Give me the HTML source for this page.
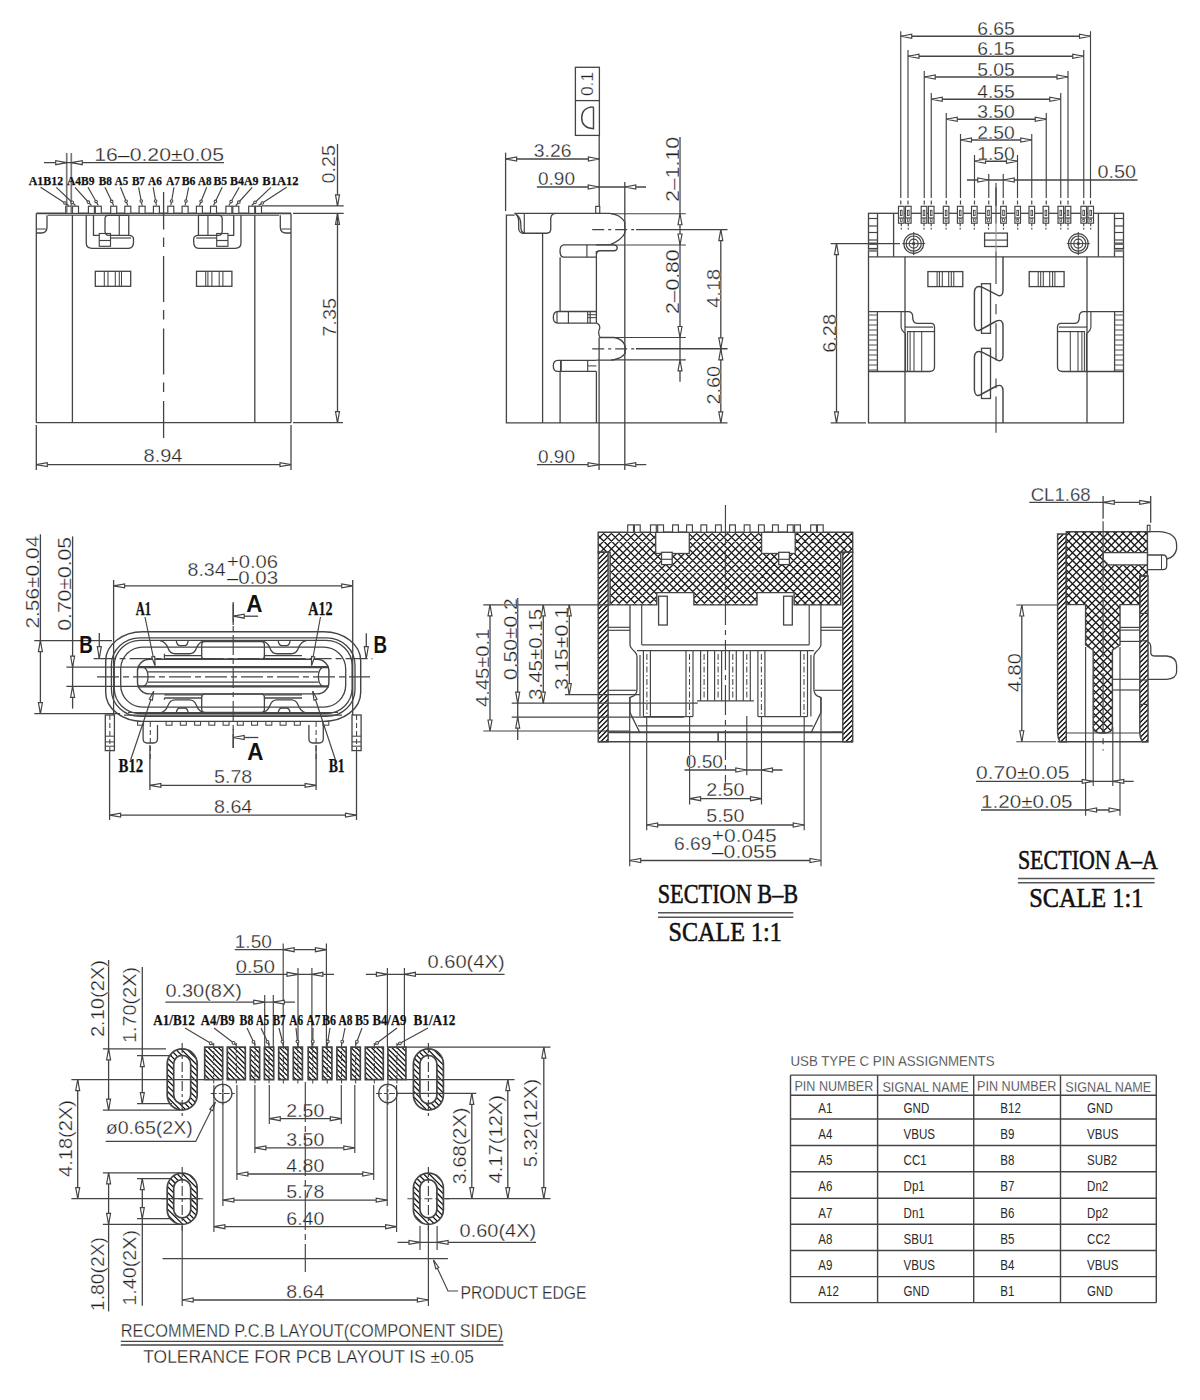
<!DOCTYPE html>
<html><head><meta charset="utf-8"><style>
html,body{margin:0;padding:0;background:#fff;}
svg{display:block;}
</style></head><body>
<svg width="1200" height="1400" viewBox="0 0 1200 1400">
<rect width="1200" height="1400" fill="#fff"/>
<line x1="36.3" y1="213.4" x2="291" y2="213.4" stroke="#444" stroke-width="1.69"/>
<line x1="36.3" y1="213.4" x2="36.3" y2="422.7" stroke="#444" stroke-width="1.3"/>
<line x1="291" y1="213.4" x2="291" y2="422.7" stroke="#444" stroke-width="1.3"/>
<line x1="36.3" y1="422.7" x2="291" y2="422.7" stroke="#444" stroke-width="1.3"/>
<line x1="48" y1="215.2" x2="279" y2="215.2" stroke="#444" stroke-width="1.04"/>
<line x1="72.4" y1="215" x2="72.4" y2="422.7" stroke="#444" stroke-width="1.3"/>
<line x1="254.8" y1="215" x2="254.8" y2="422.7" stroke="#444" stroke-width="1.3"/>
<path d="M47,215.2 L47,227 Q47,233 41.3,233 L36.3,233" fill="none" stroke="#444" stroke-width="1.3" />
<line x1="36.8" y1="229" x2="45.8" y2="229" stroke="#444" stroke-width="1.04"/>
<path d="M280.3,215.2 L280.3,227 Q280.3,233 286,233 L291,233" fill="none" stroke="#444" stroke-width="1.3" />
<line x1="290.5" y1="229" x2="281.5" y2="229" stroke="#444" stroke-width="1.04"/>
<path d="M86.25,215 L86.25,243 Q86.25,248.3 92,248.3 L128.5,248.3 Q133.5,248.3 133.5,242 L133.5,239 Q133.5,235.5 128.7,235.3" fill="none" stroke="#444" stroke-width="1.3" />
<polyline points="93.5,215 93.5,235.3 99.25,235.3" fill="none" stroke="#444" stroke-width="1.3"/>
<rect x="99.25" y="233.5" width="11.25" height="12.8" fill="none" stroke="#444" stroke-width="1.17"/>
<line x1="99.25" y1="240.5" x2="110.5" y2="240.5" stroke="#444" stroke-width="1.17"/>
<path d="M128.75,215.3 L108,215.3 Q105,215.3 105,219 L105,231 Q105,235.3 109,235.3 L128.75,235.3 Z" fill="none" stroke="#444" stroke-width="1.3" />
<line x1="119.25" y1="215.3" x2="119.25" y2="235.3" stroke="#444" stroke-width="1.17"/>
<line x1="111" y1="238" x2="131" y2="238" stroke="#444" stroke-width="1.17"/>
<rect x="95.3" y="271.3" width="35.4" height="15" fill="none" stroke="#444" stroke-width="1.3"/>
<line x1="104.3" y1="271.3" x2="104.3" y2="286.3" stroke="#444" stroke-width="1.04"/>
<line x1="108" y1="271.3" x2="108" y2="286.3" stroke="#444" stroke-width="1.04"/>
<line x1="115.3" y1="271.3" x2="115.3" y2="286.3" stroke="#444" stroke-width="1.04"/>
<line x1="119.3" y1="271.3" x2="119.3" y2="286.3" stroke="#444" stroke-width="1.04"/>
<line x1="121.5" y1="271.3" x2="121.5" y2="286.3" stroke="#444" stroke-width="1.04"/>
<path d="M240.95,215 L240.95,243 Q240.95,248.3 235.2,248.3 L198.7,248.3 Q193.7,248.3 193.7,242 L193.7,239 Q193.7,235.5 198.5,235.3" fill="none" stroke="#444" stroke-width="1.3" />
<polyline points="233.7,215 233.7,235.3 227.95,235.3" fill="none" stroke="#444" stroke-width="1.3"/>
<rect x="216.7" y="233.5" width="11.25" height="12.8" fill="none" stroke="#444" stroke-width="1.17"/>
<line x1="227.95" y1="240.5" x2="216.7" y2="240.5" stroke="#444" stroke-width="1.17"/>
<path d="M198.45,215.3 L219.2,215.3 Q222.2,215.3 222.2,219 L222.2,231 Q222.2,235.3 218.2,235.3 L198.45,235.3 Z" fill="none" stroke="#444" stroke-width="1.3" />
<line x1="207.95" y1="215.3" x2="207.95" y2="235.3" stroke="#444" stroke-width="1.17"/>
<line x1="216.2" y1="238" x2="196.2" y2="238" stroke="#444" stroke-width="1.17"/>
<rect x="196.5" y="271.3" width="35.4" height="15" fill="none" stroke="#444" stroke-width="1.3"/>
<line x1="222.9" y1="271.3" x2="222.9" y2="286.3" stroke="#444" stroke-width="1.04"/>
<line x1="219.2" y1="271.3" x2="219.2" y2="286.3" stroke="#444" stroke-width="1.04"/>
<line x1="211.9" y1="271.3" x2="211.9" y2="286.3" stroke="#444" stroke-width="1.04"/>
<line x1="207.9" y1="271.3" x2="207.9" y2="286.3" stroke="#444" stroke-width="1.04"/>
<line x1="205.7" y1="271.3" x2="205.7" y2="286.3" stroke="#444" stroke-width="1.04"/>
<line x1="163.6" y1="192" x2="163.6" y2="438" stroke="#444" stroke-width="1.3" stroke-dasharray="46,8,9.5,9" stroke-dashoffset="8.5"/>
<rect x="65.7" y="206.2" width="6" height="7.2" fill="#fff" stroke="#444" stroke-width="1.17"/>
<rect x="72.5" y="206.2" width="6" height="7.2" fill="#fff" stroke="#444" stroke-width="1.17"/>
<rect x="88.4" y="206.2" width="6" height="7.2" fill="#fff" stroke="#444" stroke-width="1.17"/>
<rect x="95.3" y="206.2" width="6" height="7.2" fill="#fff" stroke="#444" stroke-width="1.17"/>
<rect x="110.7" y="206.2" width="6" height="7.2" fill="#fff" stroke="#444" stroke-width="1.17"/>
<rect x="124.8" y="206.2" width="6" height="7.2" fill="#fff" stroke="#444" stroke-width="1.17"/>
<rect x="139.1" y="206.2" width="6" height="7.2" fill="#fff" stroke="#444" stroke-width="1.17"/>
<rect x="153.4" y="206.2" width="6" height="7.2" fill="#fff" stroke="#444" stroke-width="1.17"/>
<rect x="255.5" y="206.2" width="6" height="7.2" fill="#fff" stroke="#444" stroke-width="1.17"/>
<rect x="248.7" y="206.2" width="6" height="7.2" fill="#fff" stroke="#444" stroke-width="1.17"/>
<rect x="232.8" y="206.2" width="6" height="7.2" fill="#fff" stroke="#444" stroke-width="1.17"/>
<rect x="225.9" y="206.2" width="6" height="7.2" fill="#fff" stroke="#444" stroke-width="1.17"/>
<rect x="210.5" y="206.2" width="6" height="7.2" fill="#fff" stroke="#444" stroke-width="1.17"/>
<rect x="196.4" y="206.2" width="6" height="7.2" fill="#fff" stroke="#444" stroke-width="1.17"/>
<rect x="182.1" y="206.2" width="6" height="7.2" fill="#fff" stroke="#444" stroke-width="1.17"/>
<rect x="167.8" y="206.2" width="6" height="7.2" fill="#fff" stroke="#444" stroke-width="1.17"/>
<line x1="66.7" y1="153" x2="66.7" y2="213" stroke="#777" stroke-width="1.69"/>
<line x1="71.3" y1="153" x2="71.3" y2="213" stroke="#777" stroke-width="1.69"/>
<line x1="44" y1="162.7" x2="224" y2="162.7" stroke="#444" stroke-width="1.3"/>
<polygon points="66.7,162.7 55.7,164.7 55.7,160.7" fill="#fff" stroke="#444" stroke-width="1.17"/>
<polygon points="71.3,162.7 82.3,160.7 82.3,164.7" fill="#fff" stroke="#444" stroke-width="1.17"/>
<text x="94.2" y="161.2" font-family="Liberation Sans" font-size="17.8" font-weight="normal" text-anchor="start" fill="#222" textLength="129.8" lengthAdjust="spacingAndGlyphs"  stroke="#fff" stroke-width="0.3">16–0.20±0.05</text>
<text x="28.75" y="185" font-family="Liberation Serif" font-size="13.4" font-weight="bold" text-anchor="start" fill="#111" textLength="34.35" lengthAdjust="spacingAndGlyphs" stroke="#111" stroke-width="0.25">A1B12</text>
<text x="66.9" y="185" font-family="Liberation Serif" font-size="13.4" font-weight="bold" text-anchor="start" fill="#111" textLength="27.5" lengthAdjust="spacingAndGlyphs" stroke="#111" stroke-width="0.25">A4B9</text>
<text x="98.75" y="185" font-family="Liberation Serif" font-size="13.4" font-weight="bold" text-anchor="start" fill="#111" textLength="13.15" lengthAdjust="spacingAndGlyphs" stroke="#111" stroke-width="0.25">B8</text>
<text x="114.75" y="185" font-family="Liberation Serif" font-size="13.4" font-weight="bold" text-anchor="start" fill="#111" textLength="13.35" lengthAdjust="spacingAndGlyphs" stroke="#111" stroke-width="0.25">A5</text>
<text x="131.9" y="185" font-family="Liberation Serif" font-size="13.4" font-weight="bold" text-anchor="start" fill="#111" textLength="13.1" lengthAdjust="spacingAndGlyphs" stroke="#111" stroke-width="0.25">B7</text>
<text x="148.1" y="185" font-family="Liberation Serif" font-size="13.4" font-weight="bold" text-anchor="start" fill="#111" textLength="13.8" lengthAdjust="spacingAndGlyphs" stroke="#111" stroke-width="0.25">A6</text>
<text x="166" y="185" font-family="Liberation Serif" font-size="13.4" font-weight="bold" text-anchor="start" fill="#111" textLength="13.8" lengthAdjust="spacingAndGlyphs" stroke="#111" stroke-width="0.25">A7</text>
<text x="181.7" y="185" font-family="Liberation Serif" font-size="13.4" font-weight="bold" text-anchor="start" fill="#111" textLength="13.8" lengthAdjust="spacingAndGlyphs" stroke="#111" stroke-width="0.25">B6</text>
<text x="198" y="185" font-family="Liberation Serif" font-size="13.4" font-weight="bold" text-anchor="start" fill="#111" textLength="13.5" lengthAdjust="spacingAndGlyphs" stroke="#111" stroke-width="0.25">A8</text>
<text x="213.5" y="185" font-family="Liberation Serif" font-size="13.4" font-weight="bold" text-anchor="start" fill="#111" textLength="13.7" lengthAdjust="spacingAndGlyphs" stroke="#111" stroke-width="0.25">B5</text>
<text x="230" y="185" font-family="Liberation Serif" font-size="13.4" font-weight="bold" text-anchor="start" fill="#111" textLength="28.5" lengthAdjust="spacingAndGlyphs" stroke="#111" stroke-width="0.25">B4A9</text>
<text x="262.3" y="185" font-family="Liberation Serif" font-size="13.4" font-weight="bold" text-anchor="start" fill="#111" textLength="36.2" lengthAdjust="spacingAndGlyphs" stroke="#111" stroke-width="0.25">B1A12</text>
<line x1="40.6" y1="187.3" x2="68.7" y2="205.5" stroke="#444" stroke-width="1.17"/>
<circle cx="64.92" cy="203.05" r="1.3" fill="#fff" stroke="#444" stroke-width="1.04"/>
<line x1="56.3" y1="187.3" x2="75.5" y2="205.5" stroke="#444" stroke-width="1.17"/>
<circle cx="72.23" cy="202.4" r="1.3" fill="#fff" stroke="#444" stroke-width="1.04"/>
<line x1="75" y1="187.3" x2="91.4" y2="205.5" stroke="#444" stroke-width="1.17"/>
<circle cx="88.39" cy="202.16" r="1.3" fill="#fff" stroke="#444" stroke-width="1.04"/>
<line x1="88" y1="187.3" x2="98.3" y2="205.5" stroke="#444" stroke-width="1.17"/>
<circle cx="96.08" cy="201.58" r="1.3" fill="#fff" stroke="#444" stroke-width="1.04"/>
<line x1="105" y1="187.3" x2="113.7" y2="205.5" stroke="#444" stroke-width="1.17"/>
<circle cx="111.76" cy="201.44" r="1.3" fill="#fff" stroke="#444" stroke-width="1.04"/>
<line x1="120.5" y1="187.3" x2="127.8" y2="205.5" stroke="#444" stroke-width="1.17"/>
<circle cx="126.12" cy="201.32" r="1.3" fill="#fff" stroke="#444" stroke-width="1.04"/>
<line x1="138.6" y1="187.3" x2="142.1" y2="205.5" stroke="#444" stroke-width="1.17"/>
<circle cx="141.25" cy="201.08" r="1.3" fill="#fff" stroke="#444" stroke-width="1.04"/>
<line x1="153.2" y1="187.3" x2="156.4" y2="205.5" stroke="#444" stroke-width="1.17"/>
<circle cx="155.62" cy="201.07" r="1.3" fill="#fff" stroke="#444" stroke-width="1.04"/>
<line x1="286.6" y1="187.3" x2="258.5" y2="205.5" stroke="#444" stroke-width="1.17"/>
<circle cx="262.28" cy="203.05" r="1.3" fill="#fff" stroke="#444" stroke-width="1.04"/>
<line x1="270.9" y1="187.3" x2="251.7" y2="205.5" stroke="#444" stroke-width="1.17"/>
<circle cx="254.97" cy="202.4" r="1.3" fill="#fff" stroke="#444" stroke-width="1.04"/>
<line x1="252.2" y1="187.3" x2="235.8" y2="205.5" stroke="#444" stroke-width="1.17"/>
<circle cx="238.81" cy="202.16" r="1.3" fill="#fff" stroke="#444" stroke-width="1.04"/>
<line x1="239.2" y1="187.3" x2="228.9" y2="205.5" stroke="#444" stroke-width="1.17"/>
<circle cx="231.12" cy="201.58" r="1.3" fill="#fff" stroke="#444" stroke-width="1.04"/>
<line x1="222.2" y1="187.3" x2="213.5" y2="205.5" stroke="#444" stroke-width="1.17"/>
<circle cx="215.44" cy="201.44" r="1.3" fill="#fff" stroke="#444" stroke-width="1.04"/>
<line x1="206.7" y1="187.3" x2="199.4" y2="205.5" stroke="#444" stroke-width="1.17"/>
<circle cx="201.08" cy="201.32" r="1.3" fill="#fff" stroke="#444" stroke-width="1.04"/>
<line x1="188.6" y1="187.3" x2="185.1" y2="205.5" stroke="#444" stroke-width="1.17"/>
<circle cx="185.95" cy="201.08" r="1.3" fill="#fff" stroke="#444" stroke-width="1.04"/>
<line x1="174" y1="187.3" x2="170.8" y2="205.5" stroke="#444" stroke-width="1.17"/>
<circle cx="171.58" cy="201.07" r="1.3" fill="#fff" stroke="#444" stroke-width="1.04"/>
<line x1="262" y1="205.8" x2="343.7" y2="205.8" stroke="#444" stroke-width="1.17"/>
<line x1="293" y1="213.4" x2="343.7" y2="213.4" stroke="#444" stroke-width="1.17"/>
<line x1="337.5" y1="144" x2="337.5" y2="205.8" stroke="#444" stroke-width="1.3"/>
<polygon points="337.5,205.8 335.5,194.8 339.5,194.8" fill="#fff" stroke="#444" stroke-width="1.17"/>
<polygon points="337.5,213.4 339.5,224.4 335.5,224.4" fill="#fff" stroke="#444" stroke-width="1.17"/>
<line x1="337.5" y1="213.4" x2="337.5" y2="422.7" stroke="#444" stroke-width="1.3"/>
<polygon points="337.5,422.7 335.5,411.7 339.5,411.7" fill="#fff" stroke="#444" stroke-width="1.17"/>
<text x="335.41" y="183.5" font-family="Liberation Sans" font-size="17.8" font-weight="normal" text-anchor="start" fill="#222" textLength="38.5" lengthAdjust="spacingAndGlyphs" transform="rotate(-90 335.41 183.5)"  stroke="#fff" stroke-width="0.3">0.25</text>
<line x1="293" y1="422.7" x2="343" y2="422.7" stroke="#444" stroke-width="1.17"/>
<text x="336.41" y="336.7" font-family="Liberation Sans" font-size="17.8" font-weight="normal" text-anchor="start" fill="#222" textLength="38.7" lengthAdjust="spacingAndGlyphs" transform="rotate(-90 336.41 336.7)"  stroke="#fff" stroke-width="0.3">7.35</text>
<line x1="36.3" y1="425" x2="36.3" y2="470" stroke="#444" stroke-width="1.3"/>
<line x1="291" y1="425" x2="291" y2="470" stroke="#444" stroke-width="1.3"/>
<line x1="36.3" y1="464.6" x2="291" y2="464.6" stroke="#444" stroke-width="1.3"/>
<polygon points="36.3,464.6 47.3,462.6 47.3,466.6" fill="#fff" stroke="#444" stroke-width="1.17"/>
<polygon points="291,464.6 280,466.6 280,462.6" fill="#fff" stroke="#444" stroke-width="1.17"/>
<text x="143.5" y="462" font-family="Liberation Sans" font-size="17.8" font-weight="normal" text-anchor="start" fill="#222" textLength="39" lengthAdjust="spacingAndGlyphs"  stroke="#fff" stroke-width="0.3">8.94</text>
<polyline points="514.6,215.2 506.4,215.2 506.4,422.9 727.5,422.9" fill="none" stroke="#444" stroke-width="1.3"/>
<path d="M514.6,213.4 Q518.5,215 518.7,222 L518.7,229 Q519.5,233.25 523,233.25 L546.5,233.25 Q550.75,233.25 550.75,229 L550.75,218 Q551.5,213.4 556,213.4 L609.7,213.4 Q620.2,214.5 624.8,222 L625,232.7 Q622,239.7 609.7,244.9 L563.6,244.9 Q560,245.5 560,251 Q560,257.2 564,257.2 L596.25,257.2" fill="none" stroke="#444" stroke-width="1.3" />
<line x1="514.6" y1="213.4" x2="556" y2="213.4" stroke="#444" stroke-width="1.3"/>
<line x1="524.3" y1="213.4" x2="524.3" y2="233.25" stroke="#444" stroke-width="1.17"/>
<path d="M516.5,214.5 Q520.5,217 520.8,224 L521,229 Q521.5,232.5 524,233.2" fill="none" stroke="#444" stroke-width="1.3" />
<line x1="586.9" y1="244.9" x2="586.9" y2="257.2" stroke="#444" stroke-width="1.17"/>
<path d="M596.25,244.9 L614,244.9 Q617.25,245.5 617.25,248 Q617,250.75 614,250.75 L599.5,250.75 Q597,251 596.25,254" fill="none" stroke="#444" stroke-width="1.3" />
<line x1="542.6" y1="233.25" x2="542.6" y2="422.9" stroke="#444" stroke-width="1.3"/>
<line x1="560.1" y1="257.2" x2="560.1" y2="311.5" stroke="#444" stroke-width="1.3"/>
<line x1="560.1" y1="371.4" x2="560.1" y2="422.9" stroke="#444" stroke-width="1.3"/>
<line x1="596.4" y1="251" x2="596.4" y2="323.2" stroke="#444" stroke-width="1.3"/>
<line x1="596.4" y1="371.4" x2="596.4" y2="422.9" stroke="#444" stroke-width="1.3"/>
<path d="M596.4,311.5 L558,311.5 Q553.3,311.5 553.3,317.35 Q553.3,323.2 558,323.2 L596.4,323.2" fill="none" stroke="#444" stroke-width="1.3" />
<path d="M596.4,360.4 L558,360.4 Q553.3,360.4 553.3,365.9 Q553.3,371.4 558,371.4 L596.4,371.4" fill="none" stroke="#444" stroke-width="1.3" />
<line x1="557" y1="311.5" x2="557" y2="323.2" stroke="#444" stroke-width="1.17"/>
<line x1="568.4" y1="311.5" x2="568.4" y2="323.2" stroke="#444" stroke-width="1.17"/>
<line x1="587.7" y1="311.5" x2="587.7" y2="323.2" stroke="#444" stroke-width="1.17"/>
<line x1="590.2" y1="311.5" x2="590.2" y2="323.2" stroke="#444" stroke-width="1.17"/>
<line x1="587.7" y1="314.7" x2="596.4" y2="314.7" stroke="#444" stroke-width="1.04"/>
<line x1="587.7" y1="317.6" x2="596.4" y2="317.6" stroke="#444" stroke-width="1.04"/>
<line x1="560.9" y1="360.4" x2="560.9" y2="371.4" stroke="#444" stroke-width="1.82"/>
<line x1="587.7" y1="360.4" x2="587.7" y2="371.4" stroke="#444" stroke-width="1.17"/>
<line x1="587.7" y1="365.9" x2="596.4" y2="365.9" stroke="#444" stroke-width="1.04"/>
<path d="M596.4,323.2 Q599.8,324 599.8,328 Q597.5,333 600,337.5 L614.2,337.5 Q623,339 625.2,346 L625.2,353.2 Q622,358.5 612.4,360.1 L596.4,360.1" fill="none" stroke="#444" stroke-width="1.3" />
<rect x="595.7" y="206.4" width="4.05" height="7" fill="none" stroke="#444" stroke-width="1.17"/>
<line x1="599.2" y1="135.4" x2="599.2" y2="206.4" stroke="#444" stroke-width="1.3"/>
<line x1="599.1" y1="337.5" x2="599.1" y2="470" stroke="#444" stroke-width="1.3"/>
<line x1="624.8" y1="181.9" x2="624.8" y2="470" stroke="#444" stroke-width="1.3"/>
<line x1="505.6" y1="152.7" x2="505.6" y2="211" stroke="#444" stroke-width="1.3"/>
<rect x="575.4" y="67.3" width="24" height="68.1" fill="none" stroke="#444" stroke-width="1.3"/>
<line x1="575.4" y1="100.6" x2="599.4" y2="100.6" stroke="#444" stroke-width="1.3"/>
<text x="593.34" y="96" font-family="Liberation Sans" font-size="16.5" font-weight="normal" text-anchor="start" fill="#222" textLength="24" lengthAdjust="spacingAndGlyphs" transform="rotate(-90 593.34 96)"  stroke="#fff" stroke-width="0.3">0.1</text>
<path d="M593.5,106.9 L593.5,128.75 Q581.7,128 581.7,117.8 Q581.7,107.5 593.5,106.9" fill="none" stroke="#444" stroke-width="1.43" />
<line x1="505.6" y1="159" x2="599.4" y2="159" stroke="#444" stroke-width="1.3"/>
<polygon points="505.6,159 516.6,157 516.6,161" fill="#fff" stroke="#444" stroke-width="1.17"/>
<polygon points="599.4,159 588.4,161 588.4,157" fill="#fff" stroke="#444" stroke-width="1.17"/>
<text x="533.8" y="156.9" font-family="Liberation Sans" font-size="17.8" font-weight="normal" text-anchor="start" fill="#222" textLength="37.7" lengthAdjust="spacingAndGlyphs"  stroke="#fff" stroke-width="0.3">3.26</text>
<line x1="536.9" y1="187" x2="646" y2="187" stroke="#444" stroke-width="1.3"/>
<polygon points="599.2,187 588.2,189 588.2,185" fill="#fff" stroke="#444" stroke-width="1.17"/>
<polygon points="624.8,187 635.8,185 635.8,189" fill="#fff" stroke="#444" stroke-width="1.17"/>
<text x="538" y="185" font-family="Liberation Sans" font-size="17.8" font-weight="normal" text-anchor="start" fill="#222" textLength="37" lengthAdjust="spacingAndGlyphs"  stroke="#fff" stroke-width="0.3">0.90</text>
<line x1="536.9" y1="464.6" x2="646.25" y2="464.6" stroke="#444" stroke-width="1.3"/>
<polygon points="599.1,464.6 588.1,466.6 588.1,462.6" fill="#fff" stroke="#444" stroke-width="1.17"/>
<polygon points="624.8,464.6 635.8,462.6 635.8,466.6" fill="#fff" stroke="#444" stroke-width="1.17"/>
<text x="538" y="462.5" font-family="Liberation Sans" font-size="17.8" font-weight="normal" text-anchor="start" fill="#222" textLength="37" lengthAdjust="spacingAndGlyphs"  stroke="#fff" stroke-width="0.3">0.90</text>
<line x1="611" y1="213.75" x2="685.8" y2="213.75" stroke="#444" stroke-width="1.17"/>
<line x1="611" y1="245" x2="685.8" y2="245" stroke="#444" stroke-width="1.17"/>
<line x1="611" y1="337.5" x2="685.8" y2="337.5" stroke="#444" stroke-width="1.17"/>
<line x1="611" y1="359.8" x2="685.8" y2="359.8" stroke="#444" stroke-width="1.17"/>
<line x1="592.2" y1="229.6" x2="636" y2="229.6" stroke="#444" stroke-width="1.17" stroke-dasharray="12,4,3,4"/>
<line x1="636" y1="229.6" x2="727.5" y2="229.6" stroke="#444" stroke-width="1.17"/>
<line x1="592.2" y1="348.8" x2="636" y2="348.8" stroke="#444" stroke-width="1.17" stroke-dasharray="12,4,3,4"/>
<line x1="636" y1="348.8" x2="727.5" y2="348.8" stroke="#444" stroke-width="1.56"/>
<line x1="680" y1="137" x2="680" y2="381.7" stroke="#444" stroke-width="1.3"/>
<polygon points="680,213.75 682,224.75 678,224.75" fill="#fff" stroke="#444" stroke-width="1.17"/>
<polygon points="680,245 678,234 682,234" fill="#fff" stroke="#444" stroke-width="1.17"/>
<polygon points="680,337.5 678,326.5 682,326.5" fill="#fff" stroke="#444" stroke-width="1.17"/>
<polygon points="680,359.8 682,370.8 678,370.8" fill="#fff" stroke="#444" stroke-width="1.17"/>
<text x="678.71" y="201.7" font-family="Liberation Sans" font-size="17.8" font-weight="normal" text-anchor="start" fill="#222" textLength="64.7" lengthAdjust="spacingAndGlyphs" transform="rotate(-90 678.71 201.7)"  stroke="#fff" stroke-width="0.3">2–1.10</text>
<text x="678.71" y="314" font-family="Liberation Sans" font-size="17.8" font-weight="normal" text-anchor="start" fill="#222" textLength="64.6" lengthAdjust="spacingAndGlyphs" transform="rotate(-90 678.71 314)"  stroke="#fff" stroke-width="0.3">2–0.80</text>
<line x1="720.8" y1="229.6" x2="720.8" y2="422.9" stroke="#444" stroke-width="1.3"/>
<polygon points="720.8,229.6 722.8,240.6 718.8,240.6" fill="#fff" stroke="#444" stroke-width="1.17"/>
<polygon points="720.8,348.8 718.8,337.8 722.8,337.8" fill="#fff" stroke="#444" stroke-width="1.17"/>
<polygon points="720.8,348.8 722.8,359.8 718.8,359.8" fill="#fff" stroke="#444" stroke-width="1.17"/>
<polygon points="720.8,422.9 718.8,411.9 722.8,411.9" fill="#fff" stroke="#444" stroke-width="1.17"/>
<text x="720.41" y="307.7" font-family="Liberation Sans" font-size="17.8" font-weight="normal" text-anchor="start" fill="#222" textLength="38.7" lengthAdjust="spacingAndGlyphs" transform="rotate(-90 720.41 307.7)"  stroke="#fff" stroke-width="0.3">4.18</text>
<text x="720.41" y="404.6" font-family="Liberation Sans" font-size="17.8" font-weight="normal" text-anchor="start" fill="#222" textLength="38.6" lengthAdjust="spacingAndGlyphs" transform="rotate(-90 720.41 404.6)"  stroke="#fff" stroke-width="0.3">2.60</text>
<rect x="868.5" y="213.3" width="255" height="209.6" fill="none" stroke="#444" stroke-width="1.3"/>
<line x1="868.5" y1="256.8" x2="1123.5" y2="256.8" stroke="#444" stroke-width="1.3"/>
<line x1="893.6" y1="213.3" x2="893.6" y2="256.8" stroke="#444" stroke-width="1.3"/>
<line x1="905" y1="256.8" x2="905" y2="422.9" stroke="#444" stroke-width="1.3"/>
<line x1="877.5" y1="213.3" x2="877.5" y2="256.8" stroke="#444" stroke-width="1.3"/>
<line x1="868.5" y1="218.5" x2="877.5" y2="218.5" stroke="#444" stroke-width="1.17"/>
<line x1="868.5" y1="226" x2="877.5" y2="226" stroke="#444" stroke-width="1.17"/>
<line x1="868.5" y1="232.5" x2="877.5" y2="232.5" stroke="#444" stroke-width="1.17"/>
<line x1="868.5" y1="240" x2="877.5" y2="240" stroke="#444" stroke-width="1.17"/>
<line x1="868.5" y1="244" x2="877.5" y2="244" stroke="#444" stroke-width="1.17"/>
<line x1="868.5" y1="248.5" x2="877.5" y2="248.5" stroke="#444" stroke-width="1.17"/>
<line x1="868.5" y1="251" x2="877.5" y2="251" stroke="#444" stroke-width="1.17"/>
<line x1="868.5" y1="243.7" x2="877.5" y2="243.7" stroke="#666" stroke-width="2.6"/>
<line x1="868.5" y1="250.5" x2="877.5" y2="250.5" stroke="#888" stroke-width="2.6"/>
<circle cx="913.7" cy="243.6" r="9.9" fill="none" stroke="#444" stroke-width="1.3"/>
<circle cx="913.7" cy="243.6" r="7.6" fill="none" stroke="#444" stroke-width="1.17"/>
<circle cx="913.7" cy="243.6" r="4.5" fill="none" stroke="#444" stroke-width="1.17"/>
<circle cx="913.7" cy="243.6" r="1.2" fill="#333" stroke="#444" stroke-width="1.04"/>
<line x1="902.2" y1="243.6" x2="925.2" y2="243.6" stroke="#444" stroke-width="1.04"/>
<line x1="913.7" y1="232.1" x2="913.7" y2="255.1" stroke="#444" stroke-width="1.04"/>
<rect x="927.9" y="271.6" width="34.9" height="15" fill="none" stroke="#444" stroke-width="1.3"/>
<line x1="937.1" y1="271.6" x2="937.1" y2="286.6" stroke="#444" stroke-width="1.04"/>
<line x1="939.4" y1="271.6" x2="939.4" y2="286.6" stroke="#444" stroke-width="1.04"/>
<line x1="942.3" y1="271.6" x2="942.3" y2="286.6" stroke="#444" stroke-width="1.04"/>
<line x1="948.7" y1="271.6" x2="948.7" y2="286.6" stroke="#444" stroke-width="1.04"/>
<line x1="951.3" y1="271.6" x2="951.3" y2="286.6" stroke="#444" stroke-width="1.04"/>
<line x1="953.8" y1="271.6" x2="953.8" y2="286.6" stroke="#444" stroke-width="1.04"/>
<path d="M868.5,311.7 L908.8,311.7 Q912.7,312 912.7,317 Q912.7,323.3 917,323.3 L931.3,323.3 Q934.5,323.5 934.5,327.1 L934.5,367 Q934.5,371.5 929.4,371.5 L868.5,371.5" fill="none" stroke="#444" stroke-width="1.3" />
<path d="M901.1,311.7 L901.1,327 Q901.5,331 905.5,333.5 L905.5,371.5" fill="none" stroke="#444" stroke-width="1.17" />
<line x1="905" y1="327.1" x2="933" y2="327.1" stroke="#444" stroke-width="1.17"/>
<line x1="907" y1="331.6" x2="934.5" y2="331.6" stroke="#444" stroke-width="1.17"/>
<line x1="907.6" y1="332" x2="907.6" y2="371.5" stroke="#444" stroke-width="1.04"/>
<line x1="910.1" y1="332" x2="910.1" y2="371.5" stroke="#444" stroke-width="1.04"/>
<line x1="914" y1="332" x2="914" y2="371.5" stroke="#444" stroke-width="1.04"/>
<line x1="921.7" y1="332" x2="921.7" y2="371.5" stroke="#444" stroke-width="1.04"/>
<line x1="877.4" y1="311.7" x2="877.4" y2="371.5" stroke="#444" stroke-width="1.3"/>
<line x1="868.5" y1="315" x2="877.4" y2="315" stroke="#555" stroke-width="1.04"/>
<line x1="868.5" y1="320" x2="877.4" y2="320" stroke="#555" stroke-width="1.04"/>
<line x1="868.5" y1="325" x2="877.4" y2="325" stroke="#555" stroke-width="1.04"/>
<line x1="868.5" y1="330" x2="877.4" y2="330" stroke="#555" stroke-width="1.04"/>
<line x1="868.5" y1="335" x2="877.4" y2="335" stroke="#555" stroke-width="1.04"/>
<line x1="868.5" y1="340" x2="877.4" y2="340" stroke="#555" stroke-width="1.04"/>
<line x1="868.5" y1="345" x2="877.4" y2="345" stroke="#555" stroke-width="1.04"/>
<line x1="868.5" y1="350" x2="877.4" y2="350" stroke="#555" stroke-width="1.04"/>
<line x1="868.5" y1="355" x2="877.4" y2="355" stroke="#555" stroke-width="1.04"/>
<line x1="868.5" y1="360" x2="877.4" y2="360" stroke="#555" stroke-width="1.04"/>
<line x1="868.5" y1="365" x2="877.4" y2="365" stroke="#555" stroke-width="1.04"/>
<line x1="868.5" y1="370" x2="877.4" y2="370" stroke="#555" stroke-width="1.04"/>
<line x1="1098.4" y1="213.3" x2="1098.4" y2="256.8" stroke="#444" stroke-width="1.3"/>
<line x1="1087" y1="256.8" x2="1087" y2="422.9" stroke="#444" stroke-width="1.3"/>
<line x1="1114.5" y1="213.3" x2="1114.5" y2="256.8" stroke="#444" stroke-width="1.3"/>
<line x1="1114.5" y1="218.5" x2="1123.5" y2="218.5" stroke="#444" stroke-width="1.17"/>
<line x1="1114.5" y1="226" x2="1123.5" y2="226" stroke="#444" stroke-width="1.17"/>
<line x1="1114.5" y1="232.5" x2="1123.5" y2="232.5" stroke="#444" stroke-width="1.17"/>
<line x1="1114.5" y1="240" x2="1123.5" y2="240" stroke="#444" stroke-width="1.17"/>
<line x1="1114.5" y1="244" x2="1123.5" y2="244" stroke="#444" stroke-width="1.17"/>
<line x1="1114.5" y1="248.5" x2="1123.5" y2="248.5" stroke="#444" stroke-width="1.17"/>
<line x1="1114.5" y1="251" x2="1123.5" y2="251" stroke="#444" stroke-width="1.17"/>
<line x1="1114.5" y1="243.7" x2="1123.5" y2="243.7" stroke="#666" stroke-width="2.6"/>
<line x1="1114.5" y1="250.5" x2="1123.5" y2="250.5" stroke="#888" stroke-width="2.6"/>
<circle cx="1078.3" cy="243.6" r="9.9" fill="none" stroke="#444" stroke-width="1.3"/>
<circle cx="1078.3" cy="243.6" r="7.6" fill="none" stroke="#444" stroke-width="1.17"/>
<circle cx="1078.3" cy="243.6" r="4.5" fill="none" stroke="#444" stroke-width="1.17"/>
<circle cx="1078.3" cy="243.6" r="1.2" fill="#333" stroke="#444" stroke-width="1.04"/>
<line x1="1066.8" y1="243.6" x2="1089.8" y2="243.6" stroke="#444" stroke-width="1.04"/>
<line x1="1078.3" y1="232.1" x2="1078.3" y2="255.1" stroke="#444" stroke-width="1.04"/>
<rect x="1029.2" y="271.6" width="34.9" height="15" fill="none" stroke="#444" stroke-width="1.3"/>
<line x1="1054.9" y1="271.6" x2="1054.9" y2="286.6" stroke="#444" stroke-width="1.04"/>
<line x1="1052.6" y1="271.6" x2="1052.6" y2="286.6" stroke="#444" stroke-width="1.04"/>
<line x1="1049.7" y1="271.6" x2="1049.7" y2="286.6" stroke="#444" stroke-width="1.04"/>
<line x1="1043.3" y1="271.6" x2="1043.3" y2="286.6" stroke="#444" stroke-width="1.04"/>
<line x1="1040.7" y1="271.6" x2="1040.7" y2="286.6" stroke="#444" stroke-width="1.04"/>
<line x1="1038.2" y1="271.6" x2="1038.2" y2="286.6" stroke="#444" stroke-width="1.04"/>
<path d="M1123.5,311.7 L1083.2,311.7 Q1079.3,312 1079.3,317 Q1079.3,323.3 1075,323.3 L1060.7,323.3 Q1057.5,323.5 1057.5,327.1 L1057.5,367 Q1057.5,371.5 1062.6,371.5 L1123.5,371.5" fill="none" stroke="#444" stroke-width="1.3" />
<path d="M1090.9,311.7 L1090.9,327 Q1090.5,331 1086.5,333.5 L1086.5,371.5" fill="none" stroke="#444" stroke-width="1.17" />
<line x1="1087" y1="327.1" x2="1059" y2="327.1" stroke="#444" stroke-width="1.17"/>
<line x1="1085" y1="331.6" x2="1057.5" y2="331.6" stroke="#444" stroke-width="1.17"/>
<line x1="1084.4" y1="332" x2="1084.4" y2="371.5" stroke="#444" stroke-width="1.04"/>
<line x1="1081.9" y1="332" x2="1081.9" y2="371.5" stroke="#444" stroke-width="1.04"/>
<line x1="1078" y1="332" x2="1078" y2="371.5" stroke="#444" stroke-width="1.04"/>
<line x1="1070.3" y1="332" x2="1070.3" y2="371.5" stroke="#444" stroke-width="1.04"/>
<line x1="1114.6" y1="311.7" x2="1114.6" y2="371.5" stroke="#444" stroke-width="1.3"/>
<line x1="1114.6" y1="315" x2="1123.5" y2="315" stroke="#555" stroke-width="1.04"/>
<line x1="1114.6" y1="320" x2="1123.5" y2="320" stroke="#555" stroke-width="1.04"/>
<line x1="1114.6" y1="325" x2="1123.5" y2="325" stroke="#555" stroke-width="1.04"/>
<line x1="1114.6" y1="330" x2="1123.5" y2="330" stroke="#555" stroke-width="1.04"/>
<line x1="1114.6" y1="335" x2="1123.5" y2="335" stroke="#555" stroke-width="1.04"/>
<line x1="1114.6" y1="340" x2="1123.5" y2="340" stroke="#555" stroke-width="1.04"/>
<line x1="1114.6" y1="345" x2="1123.5" y2="345" stroke="#555" stroke-width="1.04"/>
<line x1="1114.6" y1="350" x2="1123.5" y2="350" stroke="#555" stroke-width="1.04"/>
<line x1="1114.6" y1="355" x2="1123.5" y2="355" stroke="#555" stroke-width="1.04"/>
<line x1="1114.6" y1="360" x2="1123.5" y2="360" stroke="#555" stroke-width="1.04"/>
<line x1="1114.6" y1="365" x2="1123.5" y2="365" stroke="#555" stroke-width="1.04"/>
<line x1="1114.6" y1="370" x2="1123.5" y2="370" stroke="#555" stroke-width="1.04"/>
<rect x="898.5" y="206.3" width="5.6" height="16.9" fill="#fff" stroke="#444" stroke-width="1.17"/>
<line x1="898.5" y1="217.9" x2="904.1" y2="217.9" stroke="#444" stroke-width="1.04"/>
<rect x="900.5" y="210.3" width="1.6" height="5.3" fill="none" stroke="#444" stroke-width="0.91"/>
<rect x="900.4" y="218.7" width="1.8" height="2.7" fill="none" stroke="#444" stroke-width="0.78"/>
<line x1="901.3" y1="223.2" x2="901.3" y2="229.5" stroke="#444" stroke-width="1.17" stroke-dasharray="3,1.5"/>
<rect x="905.5" y="206.3" width="5.6" height="16.9" fill="#fff" stroke="#444" stroke-width="1.17"/>
<line x1="905.5" y1="217.9" x2="911.1" y2="217.9" stroke="#444" stroke-width="1.04"/>
<rect x="907.5" y="210.3" width="1.6" height="5.3" fill="none" stroke="#444" stroke-width="0.91"/>
<rect x="907.4" y="218.7" width="1.8" height="2.7" fill="none" stroke="#444" stroke-width="0.78"/>
<line x1="908.3" y1="223.2" x2="908.3" y2="229.5" stroke="#444" stroke-width="1.17" stroke-dasharray="3,1.5"/>
<rect x="921.2" y="206.3" width="5.6" height="16.9" fill="#fff" stroke="#444" stroke-width="1.17"/>
<line x1="921.2" y1="217.9" x2="926.8" y2="217.9" stroke="#444" stroke-width="1.04"/>
<rect x="923.2" y="210.3" width="1.6" height="5.3" fill="none" stroke="#444" stroke-width="0.91"/>
<rect x="923.1" y="218.7" width="1.8" height="2.7" fill="none" stroke="#444" stroke-width="0.78"/>
<line x1="924" y1="223.2" x2="924" y2="229.5" stroke="#444" stroke-width="1.17" stroke-dasharray="3,1.5"/>
<rect x="928.4" y="206.3" width="5.6" height="16.9" fill="#fff" stroke="#444" stroke-width="1.17"/>
<line x1="928.4" y1="217.9" x2="934" y2="217.9" stroke="#444" stroke-width="1.04"/>
<rect x="930.4" y="210.3" width="1.6" height="5.3" fill="none" stroke="#444" stroke-width="0.91"/>
<rect x="930.3" y="218.7" width="1.8" height="2.7" fill="none" stroke="#444" stroke-width="0.78"/>
<line x1="931.2" y1="223.2" x2="931.2" y2="229.5" stroke="#444" stroke-width="1.17" stroke-dasharray="3,1.5"/>
<rect x="943.3" y="206.3" width="5.6" height="16.9" fill="#fff" stroke="#444" stroke-width="1.17"/>
<line x1="943.3" y1="217.9" x2="948.9" y2="217.9" stroke="#444" stroke-width="1.04"/>
<rect x="945.3" y="210.3" width="1.6" height="5.3" fill="none" stroke="#444" stroke-width="0.91"/>
<rect x="945.2" y="218.7" width="1.8" height="2.7" fill="none" stroke="#444" stroke-width="0.78"/>
<line x1="946.1" y1="223.2" x2="946.1" y2="229.5" stroke="#444" stroke-width="1.17" stroke-dasharray="3,1.5"/>
<rect x="957.4" y="206.3" width="5.6" height="16.9" fill="#fff" stroke="#444" stroke-width="1.17"/>
<line x1="957.4" y1="217.9" x2="963" y2="217.9" stroke="#444" stroke-width="1.04"/>
<rect x="959.4" y="210.3" width="1.6" height="5.3" fill="none" stroke="#444" stroke-width="0.91"/>
<rect x="959.3" y="218.7" width="1.8" height="2.7" fill="none" stroke="#444" stroke-width="0.78"/>
<line x1="960.2" y1="223.2" x2="960.2" y2="229.5" stroke="#444" stroke-width="1.17" stroke-dasharray="3,1.5"/>
<rect x="971.5" y="206.3" width="5.6" height="16.9" fill="#fff" stroke="#444" stroke-width="1.17"/>
<line x1="971.5" y1="217.9" x2="977.1" y2="217.9" stroke="#444" stroke-width="1.04"/>
<rect x="973.5" y="210.3" width="1.6" height="5.3" fill="none" stroke="#444" stroke-width="0.91"/>
<rect x="973.4" y="218.7" width="1.8" height="2.7" fill="none" stroke="#444" stroke-width="0.78"/>
<line x1="974.3" y1="223.2" x2="974.3" y2="229.5" stroke="#444" stroke-width="1.17" stroke-dasharray="3,1.5"/>
<rect x="985.7" y="206.3" width="5.6" height="16.9" fill="#fff" stroke="#444" stroke-width="1.17"/>
<line x1="985.7" y1="217.9" x2="991.3" y2="217.9" stroke="#444" stroke-width="1.04"/>
<rect x="987.7" y="210.3" width="1.6" height="5.3" fill="none" stroke="#444" stroke-width="0.91"/>
<rect x="987.6" y="218.7" width="1.8" height="2.7" fill="none" stroke="#444" stroke-width="0.78"/>
<line x1="988.5" y1="223.2" x2="988.5" y2="229.5" stroke="#444" stroke-width="1.17" stroke-dasharray="3,1.5"/>
<rect x="1087.9" y="206.3" width="5.6" height="16.9" fill="#fff" stroke="#444" stroke-width="1.17"/>
<line x1="1087.9" y1="217.9" x2="1093.5" y2="217.9" stroke="#444" stroke-width="1.04"/>
<rect x="1089.9" y="210.3" width="1.6" height="5.3" fill="none" stroke="#444" stroke-width="0.91"/>
<rect x="1089.8" y="218.7" width="1.8" height="2.7" fill="none" stroke="#444" stroke-width="0.78"/>
<line x1="1090.7" y1="223.2" x2="1090.7" y2="229.5" stroke="#444" stroke-width="1.17" stroke-dasharray="3,1.5"/>
<rect x="1080.9" y="206.3" width="5.6" height="16.9" fill="#fff" stroke="#444" stroke-width="1.17"/>
<line x1="1080.9" y1="217.9" x2="1086.5" y2="217.9" stroke="#444" stroke-width="1.04"/>
<rect x="1082.9" y="210.3" width="1.6" height="5.3" fill="none" stroke="#444" stroke-width="0.91"/>
<rect x="1082.8" y="218.7" width="1.8" height="2.7" fill="none" stroke="#444" stroke-width="0.78"/>
<line x1="1083.7" y1="223.2" x2="1083.7" y2="229.5" stroke="#444" stroke-width="1.17" stroke-dasharray="3,1.5"/>
<rect x="1065.2" y="206.3" width="5.6" height="16.9" fill="#fff" stroke="#444" stroke-width="1.17"/>
<line x1="1065.2" y1="217.9" x2="1070.8" y2="217.9" stroke="#444" stroke-width="1.04"/>
<rect x="1067.2" y="210.3" width="1.6" height="5.3" fill="none" stroke="#444" stroke-width="0.91"/>
<rect x="1067.1" y="218.7" width="1.8" height="2.7" fill="none" stroke="#444" stroke-width="0.78"/>
<line x1="1068" y1="223.2" x2="1068" y2="229.5" stroke="#444" stroke-width="1.17" stroke-dasharray="3,1.5"/>
<rect x="1058" y="206.3" width="5.6" height="16.9" fill="#fff" stroke="#444" stroke-width="1.17"/>
<line x1="1058" y1="217.9" x2="1063.6" y2="217.9" stroke="#444" stroke-width="1.04"/>
<rect x="1060" y="210.3" width="1.6" height="5.3" fill="none" stroke="#444" stroke-width="0.91"/>
<rect x="1059.9" y="218.7" width="1.8" height="2.7" fill="none" stroke="#444" stroke-width="0.78"/>
<line x1="1060.8" y1="223.2" x2="1060.8" y2="229.5" stroke="#444" stroke-width="1.17" stroke-dasharray="3,1.5"/>
<rect x="1043.1" y="206.3" width="5.6" height="16.9" fill="#fff" stroke="#444" stroke-width="1.17"/>
<line x1="1043.1" y1="217.9" x2="1048.7" y2="217.9" stroke="#444" stroke-width="1.04"/>
<rect x="1045.1" y="210.3" width="1.6" height="5.3" fill="none" stroke="#444" stroke-width="0.91"/>
<rect x="1045" y="218.7" width="1.8" height="2.7" fill="none" stroke="#444" stroke-width="0.78"/>
<line x1="1045.9" y1="223.2" x2="1045.9" y2="229.5" stroke="#444" stroke-width="1.17" stroke-dasharray="3,1.5"/>
<rect x="1029" y="206.3" width="5.6" height="16.9" fill="#fff" stroke="#444" stroke-width="1.17"/>
<line x1="1029" y1="217.9" x2="1034.6" y2="217.9" stroke="#444" stroke-width="1.04"/>
<rect x="1031" y="210.3" width="1.6" height="5.3" fill="none" stroke="#444" stroke-width="0.91"/>
<rect x="1030.9" y="218.7" width="1.8" height="2.7" fill="none" stroke="#444" stroke-width="0.78"/>
<line x1="1031.8" y1="223.2" x2="1031.8" y2="229.5" stroke="#444" stroke-width="1.17" stroke-dasharray="3,1.5"/>
<rect x="1014.9" y="206.3" width="5.6" height="16.9" fill="#fff" stroke="#444" stroke-width="1.17"/>
<line x1="1014.9" y1="217.9" x2="1020.5" y2="217.9" stroke="#444" stroke-width="1.04"/>
<rect x="1016.9" y="210.3" width="1.6" height="5.3" fill="none" stroke="#444" stroke-width="0.91"/>
<rect x="1016.8" y="218.7" width="1.8" height="2.7" fill="none" stroke="#444" stroke-width="0.78"/>
<line x1="1017.7" y1="223.2" x2="1017.7" y2="229.5" stroke="#444" stroke-width="1.17" stroke-dasharray="3,1.5"/>
<rect x="1000.7" y="206.3" width="5.6" height="16.9" fill="#fff" stroke="#444" stroke-width="1.17"/>
<line x1="1000.7" y1="217.9" x2="1006.3" y2="217.9" stroke="#444" stroke-width="1.04"/>
<rect x="1002.7" y="210.3" width="1.6" height="5.3" fill="none" stroke="#444" stroke-width="0.91"/>
<rect x="1002.6" y="218.7" width="1.8" height="2.7" fill="none" stroke="#444" stroke-width="0.78"/>
<line x1="1003.5" y1="223.2" x2="1003.5" y2="229.5" stroke="#444" stroke-width="1.17" stroke-dasharray="3,1.5"/>
<rect x="984.6" y="233.1" width="22.8" height="13.4" fill="none" stroke="#444" stroke-width="1.3"/>
<line x1="984.6" y1="240.1" x2="1007.4" y2="240.1" stroke="#444" stroke-width="1.17"/>
<line x1="996" y1="183" x2="996" y2="223.7" stroke="#444" stroke-width="1.17"/>
<line x1="996" y1="251.2" x2="996" y2="284" stroke="#444" stroke-width="1.17"/>
<line x1="996" y1="304" x2="996" y2="314.3" stroke="#444" stroke-width="1.17"/>
<line x1="996" y1="323.3" x2="996" y2="360.5" stroke="#444" stroke-width="1.17"/>
<line x1="996" y1="378.5" x2="996" y2="388.2" stroke="#444" stroke-width="1.17"/>
<line x1="996" y1="396.5" x2="996" y2="432.7" stroke="#444" stroke-width="1.17"/>
<line x1="996" y1="223.7" x2="996" y2="251.2" stroke="#999" stroke-width="1.17"/>
<rect x="981.5" y="283.7" width="9" height="49.6" fill="none" stroke="#444" stroke-width="1.3"/>
<rect x="981.5" y="348.3" width="9" height="50.2" fill="none" stroke="#444" stroke-width="1.3"/>
<path d="M1003,256.8 L1003,290 Q1003,296.5 998.5,295.6 L982,287.2 Q975,284.5 974.4,292 L974.4,325 Q975,332 980,330 L996.5,321 Q1003,318.5 1003,326 L1003,355 Q1003,361.5 998.5,360.6 L982,352.2 Q975,349.5 974.4,357 L974.4,390 Q975,397 980,395 L996.5,386 Q1003,383.5 1003,391 L1003,422.9" fill="none" stroke="#444" stroke-width="1.43" />
<line x1="900.75" y1="31.25" x2="900.75" y2="194" stroke="#444" stroke-width="1.17"/>
<line x1="1090.5" y1="31.25" x2="1090.5" y2="194" stroke="#444" stroke-width="1.17"/>
<line x1="900.75" y1="194" x2="900.75" y2="206.3" stroke="#444" stroke-width="1.17" stroke-dasharray="4,2.5"/>
<line x1="1090.5" y1="194" x2="1090.5" y2="206.3" stroke="#444" stroke-width="1.17" stroke-dasharray="4,2.5"/>
<line x1="900.75" y1="36.25" x2="1090.5" y2="36.25" stroke="#444" stroke-width="1.3"/>
<polygon points="900.75,36.25 911.75,34.25 911.75,38.25" fill="#fff" stroke="#444" stroke-width="1.17"/>
<polygon points="1090.5,36.25 1079.5,38.25 1079.5,34.25" fill="#fff" stroke="#444" stroke-width="1.17"/>
<text x="977.2" y="35.05" font-family="Liberation Sans" font-size="17.8" font-weight="normal" text-anchor="start" fill="#222" textLength="37.6" lengthAdjust="spacingAndGlyphs"  stroke="#fff" stroke-width="0.3">6.65</text>
<line x1="908" y1="50" x2="908" y2="194" stroke="#444" stroke-width="1.17"/>
<line x1="1083.75" y1="50" x2="1083.75" y2="194" stroke="#444" stroke-width="1.17"/>
<line x1="908" y1="194" x2="908" y2="206.3" stroke="#444" stroke-width="1.17" stroke-dasharray="4,2.5"/>
<line x1="1083.75" y1="194" x2="1083.75" y2="206.3" stroke="#444" stroke-width="1.17" stroke-dasharray="4,2.5"/>
<line x1="908" y1="56.25" x2="1083.75" y2="56.25" stroke="#444" stroke-width="1.3"/>
<polygon points="908,56.25 919,54.25 919,58.25" fill="#fff" stroke="#444" stroke-width="1.17"/>
<polygon points="1083.75,56.25 1072.75,58.25 1072.75,54.25" fill="#fff" stroke="#444" stroke-width="1.17"/>
<text x="977.2" y="55.05" font-family="Liberation Sans" font-size="17.8" font-weight="normal" text-anchor="start" fill="#222" textLength="37.6" lengthAdjust="spacingAndGlyphs"  stroke="#fff" stroke-width="0.3">6.15</text>
<line x1="924.25" y1="71" x2="924.25" y2="194" stroke="#444" stroke-width="1.17"/>
<line x1="1068" y1="71" x2="1068" y2="194" stroke="#444" stroke-width="1.17"/>
<line x1="924.25" y1="194" x2="924.25" y2="206.3" stroke="#444" stroke-width="1.17" stroke-dasharray="4,2.5"/>
<line x1="1068" y1="194" x2="1068" y2="206.3" stroke="#444" stroke-width="1.17" stroke-dasharray="4,2.5"/>
<line x1="924.25" y1="77" x2="1068" y2="77" stroke="#444" stroke-width="1.3"/>
<polygon points="924.25,77 935.25,75 935.25,79" fill="#fff" stroke="#444" stroke-width="1.17"/>
<polygon points="1068,77 1057,79 1057,75" fill="#fff" stroke="#444" stroke-width="1.17"/>
<text x="977.2" y="75.8" font-family="Liberation Sans" font-size="17.8" font-weight="normal" text-anchor="start" fill="#222" textLength="37.6" lengthAdjust="spacingAndGlyphs"  stroke="#fff" stroke-width="0.3">5.05</text>
<line x1="931.25" y1="93" x2="931.25" y2="194" stroke="#444" stroke-width="1.17"/>
<line x1="1060.75" y1="93" x2="1060.75" y2="194" stroke="#444" stroke-width="1.17"/>
<line x1="931.25" y1="194" x2="931.25" y2="206.3" stroke="#444" stroke-width="1.17" stroke-dasharray="4,2.5"/>
<line x1="1060.75" y1="194" x2="1060.75" y2="206.3" stroke="#444" stroke-width="1.17" stroke-dasharray="4,2.5"/>
<line x1="931.25" y1="99.25" x2="1060.75" y2="99.25" stroke="#444" stroke-width="1.3"/>
<polygon points="931.25,99.25 942.25,97.25 942.25,101.25" fill="#fff" stroke="#444" stroke-width="1.17"/>
<polygon points="1060.75,99.25 1049.75,101.25 1049.75,97.25" fill="#fff" stroke="#444" stroke-width="1.17"/>
<text x="977.2" y="98.05" font-family="Liberation Sans" font-size="17.8" font-weight="normal" text-anchor="start" fill="#222" textLength="37.6" lengthAdjust="spacingAndGlyphs"  stroke="#fff" stroke-width="0.3">4.55</text>
<line x1="946.25" y1="113" x2="946.25" y2="194" stroke="#444" stroke-width="1.17"/>
<line x1="1046.25" y1="113" x2="1046.25" y2="194" stroke="#444" stroke-width="1.17"/>
<line x1="946.25" y1="194" x2="946.25" y2="206.3" stroke="#444" stroke-width="1.17" stroke-dasharray="4,2.5"/>
<line x1="1046.25" y1="194" x2="1046.25" y2="206.3" stroke="#444" stroke-width="1.17" stroke-dasharray="4,2.5"/>
<line x1="946.25" y1="119.25" x2="1046.25" y2="119.25" stroke="#444" stroke-width="1.3"/>
<polygon points="946.25,119.25 957.25,117.25 957.25,121.25" fill="#fff" stroke="#444" stroke-width="1.17"/>
<polygon points="1046.25,119.25 1035.25,121.25 1035.25,117.25" fill="#fff" stroke="#444" stroke-width="1.17"/>
<text x="977.2" y="118.05" font-family="Liberation Sans" font-size="17.8" font-weight="normal" text-anchor="start" fill="#222" textLength="37.6" lengthAdjust="spacingAndGlyphs"  stroke="#fff" stroke-width="0.3">3.50</text>
<line x1="960.5" y1="134" x2="960.5" y2="194" stroke="#444" stroke-width="1.17"/>
<line x1="1031.75" y1="134" x2="1031.75" y2="194" stroke="#444" stroke-width="1.17"/>
<line x1="960.5" y1="194" x2="960.5" y2="206.3" stroke="#444" stroke-width="1.17" stroke-dasharray="4,2.5"/>
<line x1="1031.75" y1="194" x2="1031.75" y2="206.3" stroke="#444" stroke-width="1.17" stroke-dasharray="4,2.5"/>
<line x1="960.5" y1="140" x2="1031.75" y2="140" stroke="#444" stroke-width="1.3"/>
<polygon points="960.5,140 971.5,138 971.5,142" fill="#fff" stroke="#444" stroke-width="1.17"/>
<polygon points="1031.75,140 1020.75,142 1020.75,138" fill="#fff" stroke="#444" stroke-width="1.17"/>
<text x="977.2" y="138.8" font-family="Liberation Sans" font-size="17.8" font-weight="normal" text-anchor="start" fill="#222" textLength="37.6" lengthAdjust="spacingAndGlyphs"  stroke="#fff" stroke-width="0.3">2.50</text>
<line x1="974.5" y1="155" x2="974.5" y2="194" stroke="#444" stroke-width="1.17"/>
<line x1="1017.5" y1="155" x2="1017.5" y2="194" stroke="#444" stroke-width="1.17"/>
<line x1="974.5" y1="194" x2="974.5" y2="206.3" stroke="#444" stroke-width="1.17" stroke-dasharray="4,2.5"/>
<line x1="1017.5" y1="194" x2="1017.5" y2="206.3" stroke="#444" stroke-width="1.17" stroke-dasharray="4,2.5"/>
<line x1="974.5" y1="161.25" x2="1017.5" y2="161.25" stroke="#444" stroke-width="1.3"/>
<polygon points="974.5,161.25 985.5,159.25 985.5,163.25" fill="#fff" stroke="#444" stroke-width="1.17"/>
<polygon points="1017.5,161.25 1006.5,163.25 1006.5,159.25" fill="#fff" stroke="#444" stroke-width="1.17"/>
<text x="977.2" y="160.05" font-family="Liberation Sans" font-size="17.8" font-weight="normal" text-anchor="start" fill="#222" textLength="37.6" lengthAdjust="spacingAndGlyphs"  stroke="#fff" stroke-width="0.3">1.50</text>
<line x1="988.75" y1="174" x2="988.75" y2="194" stroke="#444" stroke-width="1.17"/>
<line x1="1003.25" y1="174" x2="1003.25" y2="194" stroke="#444" stroke-width="1.17"/>
<line x1="988.75" y1="194" x2="988.75" y2="206.3" stroke="#444" stroke-width="1.17" stroke-dasharray="4,2.5"/>
<line x1="1003.25" y1="194" x2="1003.25" y2="206.3" stroke="#444" stroke-width="1.17" stroke-dasharray="4,2.5"/>
<line x1="967" y1="180" x2="1137.5" y2="180" stroke="#444" stroke-width="1.3"/>
<polygon points="988.75,180 977.75,182 977.75,178" fill="#fff" stroke="#444" stroke-width="1.17"/>
<polygon points="1003.25,180 1014.25,178 1014.25,182" fill="#fff" stroke="#444" stroke-width="1.17"/>
<text x="1097.5" y="178" font-family="Liberation Sans" font-size="17.8" font-weight="normal" text-anchor="start" fill="#222" textLength="38.5" lengthAdjust="spacingAndGlyphs"  stroke="#fff" stroke-width="0.3">0.50</text>
<line x1="996" y1="187.5" x2="996" y2="206" stroke="#444" stroke-width="1.17"/>
<line x1="830.7" y1="243.6" x2="900" y2="243.6" stroke="#444" stroke-width="1.17"/>
<line x1="830.7" y1="422.9" x2="866" y2="422.9" stroke="#444" stroke-width="1.17"/>
<line x1="836.5" y1="243.6" x2="836.5" y2="422.9" stroke="#444" stroke-width="1.3"/>
<polygon points="836.5,243.6 838.5,254.6 834.5,254.6" fill="#fff" stroke="#444" stroke-width="1.17"/>
<polygon points="836.5,422.9 834.5,411.9 838.5,411.9" fill="#fff" stroke="#444" stroke-width="1.17"/>
<text x="835.71" y="352.7" font-family="Liberation Sans" font-size="17.8" font-weight="normal" text-anchor="start" fill="#222" textLength="38.7" lengthAdjust="spacingAndGlyphs" transform="rotate(-90 835.71 352.7)"  stroke="#fff" stroke-width="0.3">6.28</text>
<path d="M142.7,631.8 L323.7,631.8 A37,29 0 0 1 360.7,660.8 L360.7,692.4 A37,29 0 0 1 323.7,721.4 L142.7,721.4 A37,29 0 0 1 105.7,692.4 L105.7,660.8 A37,29 0 0 1 142.7,631.8 Z" fill="none" stroke="#444" stroke-width="1.43" />
<path d="M140,637.9 L326.4,637.9 A28.6,27 0 0 1 355,664.9 L355,689.4 A28.6,27 0 0 1 326.4,716.4 L140,716.4 A28.6,27 0 0 1 111.4,689.4 L111.4,664.9 A28.6,27 0 0 1 140,637.9 Z" fill="none" stroke="#444" stroke-width="1.3" />
<path d="M140.3,640.4 L326.1,640.4 A26,25 0 0 1 352.1,665.4 L352.1,688.5 A26,25 0 0 1 326.1,713.5 L140.3,713.5 A26,25 0 0 1 114.3,688.5 L114.3,665.4 A26,25 0 0 1 140.3,640.4 Z" fill="none" stroke="#444" stroke-width="1.3" />
<path d="M142.7,647.1 L323.7,647.1 A22,22 0 0 1 345.7,669.1 L345.7,685.1 A22,22 0 0 1 323.7,707.1 L142.7,707.1 A22,22 0 0 1 120.7,685.1 L120.7,669.1 A22,22 0 0 1 142.7,647.1 Z" fill="none" stroke="#444" stroke-width="1.3" />
<path d="M149.5,659.3 L316.9,659.3 A12,12 0 0 1 328.9,671.3 L328.9,681.9 A12,12 0 0 1 316.9,693.9 L149.5,693.9 A12,12 0 0 1 137.5,681.9 L137.5,671.3 A12,12 0 0 1 149.5,659.3 Z" fill="none" stroke="#444" stroke-width="1.43" />
<line x1="137.5" y1="667.1" x2="328.9" y2="667.1" stroke="#444" stroke-width="2.21"/>
<line x1="137.5" y1="686.4" x2="328.9" y2="686.4" stroke="#444" stroke-width="2.21"/>
<line x1="147.9" y1="671.8" x2="318.5" y2="671.8" stroke="#444" stroke-width="1.17"/>
<line x1="147.9" y1="682.1" x2="318.5" y2="682.1" stroke="#444" stroke-width="1.17"/>
<path d="M143.5,667.1 Q148,669 148,676.8 Q148,684.5 143.5,686.4" fill="none" stroke="#444" stroke-width="1.3" />
<path d="M322.9,667.1 Q318.4,669 318.4,676.8 Q318.4,684.5 322.9,686.4" fill="none" stroke="#444" stroke-width="1.3" />
<rect x="201.7" y="641.7" width="62.7" height="17.5" rx="3" fill="none" stroke="#444" stroke-width="1.3"/>
<rect x="201.7" y="694.2" width="62.7" height="18.3" rx="3" fill="none" stroke="#444" stroke-width="1.3"/>
<path d="M160,640.6 Q165.5,641.5 168,648 Q170,653.75 175,653.75 L189.5,653.75 Q194.5,653.75 196.5,648 Q199,641.5 205,640.6" fill="none" stroke="#444" stroke-width="1.3" />
<path d="M176.25,640.6 Q177,645.6 180,645.6 L184.5,645.6 Q187.5,645.6 188.25,640.6" fill="none" stroke="#444" stroke-width="1.3" />
<line x1="164.4" y1="655.6" x2="201.9" y2="655.6" stroke="#444" stroke-width="1.17"/>
<line x1="164.4" y1="658.75" x2="201.9" y2="658.75" stroke="#444" stroke-width="1.3"/>
<line x1="164.4" y1="653.75" x2="164.4" y2="658.75" stroke="#444" stroke-width="1.17"/>
<path d="M160,713 Q165.5,712.1 168,705.6 Q170,699.85 175,699.85 L189.5,699.85 Q194.5,699.85 196.5,705.6 Q199,712.1 205,713" fill="none" stroke="#444" stroke-width="1.3" />
<path d="M176.25,713 Q177,708 180,708 L184.5,708 Q187.5,708 188.25,713" fill="none" stroke="#444" stroke-width="1.3" />
<line x1="164.4" y1="694.85" x2="201.9" y2="694.85" stroke="#444" stroke-width="1.17"/>
<line x1="164.4" y1="698" x2="201.9" y2="698" stroke="#444" stroke-width="1.3"/>
<line x1="164.4" y1="699.85" x2="164.4" y2="698" stroke="#444" stroke-width="1.17"/>
<path d="M306.4,640.6 Q300.9,641.5 298.4,648 Q296.4,653.75 291.4,653.75 L276.9,653.75 Q271.9,653.75 269.9,648 Q267.4,641.5 261.4,640.6" fill="none" stroke="#444" stroke-width="1.3" />
<path d="M290.15,640.6 Q289.4,645.6 286.4,645.6 L281.9,645.6 Q278.9,645.6 278.15,640.6" fill="none" stroke="#444" stroke-width="1.3" />
<line x1="264.5" y1="655.6" x2="302" y2="655.6" stroke="#444" stroke-width="1.17"/>
<line x1="264.5" y1="658.75" x2="302" y2="658.75" stroke="#444" stroke-width="1.3"/>
<line x1="264.5" y1="653.75" x2="264.5" y2="658.75" stroke="#444" stroke-width="1.17"/>
<path d="M306.4,713 Q300.9,712.1 298.4,705.6 Q296.4,699.85 291.4,699.85 L276.9,699.85 Q271.9,699.85 269.9,705.6 Q267.4,712.1 261.4,713" fill="none" stroke="#444" stroke-width="1.3" />
<path d="M290.15,713 Q289.4,708 286.4,708 L281.9,708 Q278.9,708 278.15,713" fill="none" stroke="#444" stroke-width="1.3" />
<line x1="264.5" y1="694.85" x2="302" y2="694.85" stroke="#444" stroke-width="1.17"/>
<line x1="264.5" y1="698" x2="302" y2="698" stroke="#444" stroke-width="1.3"/>
<line x1="264.5" y1="699.85" x2="264.5" y2="698" stroke="#444" stroke-width="1.17"/>
<line x1="93.6" y1="658.7" x2="372.5" y2="658.7" stroke="#444" stroke-width="1.17" stroke-dasharray="22,4,6,4"/>
<line x1="97" y1="676.8" x2="370" y2="676.8" stroke="#444" stroke-width="1.17" stroke-dasharray="22,4,6,4"/>
<line x1="66.4" y1="667.1" x2="137.5" y2="667.1" stroke="#444" stroke-width="1.17"/>
<line x1="66.4" y1="686.4" x2="137.5" y2="686.4" stroke="#444" stroke-width="1.17"/>
<line x1="34.3" y1="640.7" x2="112" y2="640.7" stroke="#444" stroke-width="1.17"/>
<line x1="34.3" y1="713.6" x2="120" y2="713.6" stroke="#444" stroke-width="1.17"/>
<line x1="128" y1="712.5" x2="338" y2="712.5" stroke="#444" stroke-width="1.17"/>
<line x1="124" y1="715.2" x2="342" y2="715.2" stroke="#444" stroke-width="1.17"/>
<rect x="137.57" y="721.5" width="6" height="3.7" fill="none" stroke="#444" stroke-width="1.04"/>
<rect x="166.07" y="721.5" width="6" height="3.7" fill="none" stroke="#444" stroke-width="1.04"/>
<rect x="180.32" y="721.5" width="6" height="3.7" fill="none" stroke="#444" stroke-width="1.04"/>
<rect x="194.57" y="721.5" width="6" height="3.7" fill="none" stroke="#444" stroke-width="1.04"/>
<rect x="208.82" y="721.5" width="6" height="3.7" fill="none" stroke="#444" stroke-width="1.04"/>
<rect x="223.07" y="721.5" width="6" height="3.7" fill="none" stroke="#444" stroke-width="1.04"/>
<rect x="237.32" y="721.5" width="6" height="3.7" fill="none" stroke="#444" stroke-width="1.04"/>
<rect x="251.57" y="721.5" width="6" height="3.7" fill="none" stroke="#444" stroke-width="1.04"/>
<rect x="265.82" y="721.5" width="6" height="3.7" fill="none" stroke="#444" stroke-width="1.04"/>
<rect x="280.07" y="721.5" width="6" height="3.7" fill="none" stroke="#444" stroke-width="1.04"/>
<rect x="294.32" y="721.5" width="6" height="3.7" fill="none" stroke="#444" stroke-width="1.04"/>
<rect x="322.82" y="721.5" width="6" height="3.7" fill="none" stroke="#444" stroke-width="1.04"/>
<path d="M143.1,725 L143.1,738.5 Q143.1,743 147.1,743 L153.5,743 Q157.5,743 157.5,738.5 L157.5,725" fill="none" stroke="#444" stroke-width="1.3" />
<line x1="150.3" y1="722" x2="150.3" y2="760" stroke="#444" stroke-width="1.04" stroke-dasharray="5,3"/>
<rect x="105.3" y="715" width="9.1" height="35.6" fill="none" stroke="#444" stroke-width="1.3"/>
<line x1="105.3" y1="736.2" x2="114.4" y2="736.2" stroke="#444" stroke-width="1.04"/>
<line x1="105.3" y1="741.9" x2="114.4" y2="741.9" stroke="#444" stroke-width="1.04"/>
<line x1="105.3" y1="746.2" x2="114.4" y2="746.2" stroke="#444" stroke-width="1.04"/>
<line x1="109.85" y1="715" x2="109.85" y2="755" stroke="#444" stroke-width="1.04" stroke-dasharray="5,3"/>
<path d="M308.9,725 L308.9,738.5 Q308.9,743 312.9,743 L319.3,743 Q323.3,743 323.3,738.5 L323.3,725" fill="none" stroke="#444" stroke-width="1.3" />
<line x1="316.1" y1="722" x2="316.1" y2="760" stroke="#444" stroke-width="1.04" stroke-dasharray="5,3"/>
<rect x="352" y="715" width="9.1" height="35.6" fill="none" stroke="#444" stroke-width="1.3"/>
<line x1="352" y1="736.2" x2="361.1" y2="736.2" stroke="#444" stroke-width="1.04"/>
<line x1="352" y1="741.9" x2="361.1" y2="741.9" stroke="#444" stroke-width="1.04"/>
<line x1="352" y1="746.2" x2="361.1" y2="746.2" stroke="#444" stroke-width="1.04"/>
<line x1="356.55" y1="715" x2="356.55" y2="755" stroke="#444" stroke-width="1.04" stroke-dasharray="5,3"/>
<line x1="233.2" y1="602" x2="233.2" y2="748" stroke="#444" stroke-width="1.17" stroke-dasharray="20,4,5,4"/>
<line x1="233.2" y1="603.7" x2="233.2" y2="625" stroke="#444" stroke-width="1.3"/>
<line x1="233.2" y1="616.2" x2="258.1" y2="616.2" stroke="#444" stroke-width="1.3"/>
<polygon points="233.2,616.2 244.2,614.2 244.2,618.2" fill="#fff" stroke="#444" stroke-width="1.17"/>
<text x="246.3" y="611.9" font-family="Liberation Sans" font-size="24" font-weight="bold" text-anchor="start" fill="#111" textLength="16.2" lengthAdjust="spacingAndGlyphs" >A</text>
<line x1="233.2" y1="729" x2="233.2" y2="748" stroke="#444" stroke-width="1.3"/>
<line x1="233.2" y1="737.5" x2="258.3" y2="737.5" stroke="#444" stroke-width="1.3"/>
<polygon points="233.2,737.5 244.2,735.5 244.2,739.5" fill="#fff" stroke="#444" stroke-width="1.17"/>
<text x="247.3" y="759.5" font-family="Liberation Sans" font-size="24" font-weight="bold" text-anchor="start" fill="#111" textLength="16.2" lengthAdjust="spacingAndGlyphs" >A</text>
<line x1="99.3" y1="632.9" x2="99.3" y2="658.6" stroke="#444" stroke-width="1.3"/>
<polygon points="99.3,658.6 97.3,646.6 101.3,646.6" fill="#fff" stroke="#444" stroke-width="1.17"/>
<text x="79.3" y="652.9" font-family="Liberation Sans" font-size="23" font-weight="bold" text-anchor="start" fill="#111" textLength="13.6" lengthAdjust="spacingAndGlyphs" >B</text>
<line x1="366.3" y1="633.3" x2="366.3" y2="658.6" stroke="#444" stroke-width="1.3"/>
<polygon points="366.3,658.6 364.3,646.6 368.3,646.6" fill="#fff" stroke="#444" stroke-width="1.17"/>
<text x="373.6" y="652.9" font-family="Liberation Sans" font-size="23" font-weight="bold" text-anchor="start" fill="#111" textLength="13.6" lengthAdjust="spacingAndGlyphs" >B</text>
<line x1="113.6" y1="580" x2="113.6" y2="715" stroke="#444" stroke-width="1.3"/>
<line x1="352.7" y1="580" x2="352.7" y2="715" stroke="#444" stroke-width="1.3"/>
<line x1="113.6" y1="585.9" x2="352.7" y2="585.9" stroke="#444" stroke-width="1.3"/>
<polygon points="113.6,585.9 124.6,583.9 124.6,587.9" fill="#fff" stroke="#444" stroke-width="1.17"/>
<polygon points="352.7,585.9 341.7,587.9 341.7,583.9" fill="#fff" stroke="#444" stroke-width="1.17"/>
<text x="187.5" y="576.3" font-family="Liberation Sans" font-size="17.8" font-weight="normal" text-anchor="start" fill="#222" textLength="38.1" lengthAdjust="spacingAndGlyphs"  stroke="#fff" stroke-width="0.3">8.34</text>
<text x="226.9" y="568.1" font-family="Liberation Sans" font-size="17.5" font-weight="normal" text-anchor="start" fill="#222" textLength="51.2" lengthAdjust="spacingAndGlyphs"  stroke="#fff" stroke-width="0.3">+0.06</text>
<text x="226.9" y="583.7" font-family="Liberation Sans" font-size="17.5" font-weight="normal" text-anchor="start" fill="#222" textLength="51.2" lengthAdjust="spacingAndGlyphs"  stroke="#fff" stroke-width="0.3">–0.03</text>
<line x1="40.4" y1="534.3" x2="40.4" y2="713.6" stroke="#444" stroke-width="1.3"/>
<polygon points="40.4,640.7 42.4,651.7 38.4,651.7" fill="#fff" stroke="#444" stroke-width="1.17"/>
<polygon points="40.4,713.6 38.4,702.6 42.4,702.6" fill="#fff" stroke="#444" stroke-width="1.17"/>
<text x="38.91" y="628.6" font-family="Liberation Sans" font-size="17.8" font-weight="normal" text-anchor="start" fill="#222" textLength="92.9" lengthAdjust="spacingAndGlyphs" transform="rotate(-90 38.91 628.6)"  stroke="#fff" stroke-width="0.3">2.56±0.04</text>
<line x1="72.6" y1="536.4" x2="72.6" y2="708.6" stroke="#444" stroke-width="1.3"/>
<polygon points="72.6,667.1 70.6,656.1 74.6,656.1" fill="#fff" stroke="#444" stroke-width="1.17"/>
<polygon points="72.6,686.4 74.6,697.4 70.6,697.4" fill="#fff" stroke="#444" stroke-width="1.17"/>
<text x="71.21" y="630.7" font-family="Liberation Sans" font-size="17.8" font-weight="normal" text-anchor="start" fill="#222" textLength="93.7" lengthAdjust="spacingAndGlyphs" transform="rotate(-90 71.21 630.7)"  stroke="#fff" stroke-width="0.3">0.70±0.05</text>
<text x="135.75" y="614.5" font-family="Liberation Serif" font-size="18.3" font-weight="bold" text-anchor="start" fill="#111" textLength="15.25" lengthAdjust="spacingAndGlyphs" stroke="#111" stroke-width="0.25">A1</text>
<text x="308.2" y="614.5" font-family="Liberation Serif" font-size="18.3" font-weight="bold" text-anchor="start" fill="#111" textLength="24.3" lengthAdjust="spacingAndGlyphs" stroke="#111" stroke-width="0.25">A12</text>
<text x="118.5" y="771.5" font-family="Liberation Serif" font-size="18.3" font-weight="bold" text-anchor="start" fill="#111" textLength="24.75" lengthAdjust="spacingAndGlyphs" stroke="#111" stroke-width="0.25">B12</text>
<text x="328.7" y="771.5" font-family="Liberation Serif" font-size="18.3" font-weight="bold" text-anchor="start" fill="#111" textLength="16" lengthAdjust="spacingAndGlyphs" stroke="#111" stroke-width="0.25">B1</text>
<line x1="145" y1="617" x2="155" y2="665.5" stroke="#444" stroke-width="1.17"/>
<polygon points="155,665.5 151.62,657.01 154.75,656.36" fill="#fff" stroke="#444" stroke-width="1.17"/>
<line x1="320.5" y1="617" x2="311.5" y2="665.5" stroke="#444" stroke-width="1.17"/>
<polygon points="311.5,665.5 311.57,656.36 314.72,656.94" fill="#fff" stroke="#444" stroke-width="1.17"/>
<line x1="130.6" y1="760" x2="153.7" y2="691.2" stroke="#444" stroke-width="1.17"/>
<polygon points="153.7,691.2 152.35,700.24 149.32,699.22" fill="#fff" stroke="#444" stroke-width="1.17"/>
<line x1="335.5" y1="760" x2="312.7" y2="691.2" stroke="#444" stroke-width="1.17"/>
<polygon points="312.7,691.2 317.05,699.24 314.01,700.25" fill="#fff" stroke="#444" stroke-width="1.17"/>
<line x1="149.9" y1="745" x2="149.9" y2="790" stroke="#444" stroke-width="1.3"/>
<line x1="316.1" y1="745" x2="316.1" y2="790" stroke="#444" stroke-width="1.3"/>
<line x1="149.9" y1="785.4" x2="316.1" y2="785.4" stroke="#444" stroke-width="1.3"/>
<polygon points="149.9,785.4 160.9,783.4 160.9,787.4" fill="#fff" stroke="#444" stroke-width="1.17"/>
<polygon points="316.1,785.4 305.1,787.4 305.1,783.4" fill="#fff" stroke="#444" stroke-width="1.17"/>
<text x="214" y="782.6" font-family="Liberation Sans" font-size="17.8" font-weight="normal" text-anchor="start" fill="#222" textLength="38.3" lengthAdjust="spacingAndGlyphs"  stroke="#fff" stroke-width="0.3">5.78</text>
<line x1="109.6" y1="752" x2="109.6" y2="820" stroke="#444" stroke-width="1.3"/>
<line x1="356.5" y1="752" x2="356.5" y2="820" stroke="#444" stroke-width="1.3"/>
<line x1="109.6" y1="815.1" x2="356.5" y2="815.1" stroke="#444" stroke-width="1.3"/>
<polygon points="109.6,815.1 120.6,813.1 120.6,817.1" fill="#fff" stroke="#444" stroke-width="1.17"/>
<polygon points="356.5,815.1 345.5,817.1 345.5,813.1" fill="#fff" stroke="#444" stroke-width="1.17"/>
<text x="214" y="812.7" font-family="Liberation Sans" font-size="17.8" font-weight="normal" text-anchor="start" fill="#222" textLength="38.3" lengthAdjust="spacingAndGlyphs"  stroke="#fff" stroke-width="0.3">8.64</text>
<defs>
<pattern id="xh" patternUnits="userSpaceOnUse" width="7.75" height="7.75" patternTransform="translate(6.9 6.4)">
<path d="M0,0 L7.75,7.75 M7.75,0 L0,7.75 M-1,6.75 L1,8.75 M6.75,-1 L8.75,1 M-1,1 L1,-1 M6.75,8.75 L8.75,6.75" stroke="#222" stroke-width="1.05"/>
</pattern>
<pattern id="sh" patternUnits="userSpaceOnUse" width="5" height="5" patternTransform="translate(2.5 0)">
<path d="M0,5 L5,0 M-1,1 L1,-1 M4,6 L6,4" stroke="#222" stroke-width="1.05"/>
</pattern>
</defs>
<clipPath id="cl1"><path d="M598.2,532.3 L852.7,532.3 L852.7,552.3 L840.8,552.3 L840.8,604.9 L794.1000000000001,604.9 L794.1000000000001,592.6 L757.0000000000001,592.6 L757.0000000000001,604.9 L693.9,604.9 L693.9,592.6 L656.8,592.6 L656.8,604.9 L610.1,604.9 L610.1,552.3 L598.2,552.3 Z"/></clipPath>
<path d="M525.05,532.3L597.75,605M532.8,532.3L605.5,605M540.55,532.3L613.25,605M548.3,532.3L621,605M556.05,532.3L628.75,605M563.8,532.3L636.5,605M571.55,532.3L644.25,605M579.3,532.3L652,605M587.05,532.3L659.75,605M594.8,532.3L667.5,605M602.55,532.3L675.25,605M610.3,532.3L683,605M618.05,532.3L690.75,605M625.8,532.3L698.5,605M633.55,532.3L706.25,605M641.3,532.3L714,605M649.05,532.3L721.75,605M656.8,532.3L729.5,605M664.55,532.3L737.25,605M672.3,532.3L745,605M680.05,532.3L752.75,605M687.8,532.3L760.5,605M695.55,532.3L768.25,605M703.3,532.3L776,605M711.05,532.3L783.75,605M718.8,532.3L791.5,605M726.55,532.3L799.25,605M734.3,532.3L807,605M742.05,532.3L814.75,605M749.8,532.3L822.5,605M757.55,532.3L830.25,605M765.3,532.3L838,605M773.05,532.3L845.75,605M780.8,532.3L853.5,605M788.55,532.3L861.25,605M796.3,532.3L869,605M804.05,532.3L876.75,605M811.8,532.3L884.5,605M819.55,532.3L892.25,605M827.3,532.3L900,605M835.05,532.3L907.75,605M842.8,532.3L915.5,605M850.55,532.3L923.25,605M858.3,532.3L931,605M597,532.3L524.3,605M604.75,532.3L532.05,605M612.5,532.3L539.8,605M620.25,532.3L547.55,605M628,532.3L555.3,605M635.75,532.3L563.05,605M643.5,532.3L570.8,605M651.25,532.3L578.55,605M659,532.3L586.3,605M666.75,532.3L594.05,605M674.5,532.3L601.8,605M682.25,532.3L609.55,605M690,532.3L617.3,605M697.75,532.3L625.05,605M705.5,532.3L632.8,605M713.25,532.3L640.55,605M721,532.3L648.3,605M728.75,532.3L656.05,605M736.5,532.3L663.8,605M744.25,532.3L671.55,605M752,532.3L679.3,605M759.75,532.3L687.05,605M767.5,532.3L694.8,605M775.25,532.3L702.55,605M783,532.3L710.3,605M790.75,532.3L718.05,605M798.5,532.3L725.8,605M806.25,532.3L733.55,605M814,532.3L741.3,605M821.75,532.3L749.05,605M829.5,532.3L756.8,605M837.25,532.3L764.55,605M845,532.3L772.3,605M852.75,532.3L780.05,605M860.5,532.3L787.8,605M868.25,532.3L795.55,605M876,532.3L803.3,605M883.75,532.3L811.05,605M891.5,532.3L818.8,605M899.25,532.3L826.55,605M907,532.3L834.3,605M914.75,532.3L842.05,605M922.5,532.3L849.8,605M930.25,532.3L857.55,605" stroke="#1a1a1a" stroke-width="1.3" fill="none" clip-path="url(#cl1)"/>
<path d="M598.2,532.3 L852.7,532.3 L852.7,552.3 L840.8,552.3 L840.8,604.9 L794.1000000000001,604.9 L794.1000000000001,592.6 L757.0000000000001,592.6 L757.0000000000001,604.9 L693.9,604.9 L693.9,592.6 L656.8,592.6 L656.8,604.9 L610.1,604.9 L610.1,552.3 L598.2,552.3 Z" fill="none" stroke="#444" stroke-width="1.43"/>
<rect x="655.7" y="532.3" width="33.6" height="21.2" fill="#fff" stroke="#444" stroke-width="1.3"/>
<rect x="761.6" y="532.3" width="33.6" height="21.2" fill="#fff" stroke="#444" stroke-width="1.3"/>
<rect x="661.5" y="552.3" width="10.7" height="12.3" fill="#fff" stroke="#444" stroke-width="1.3"/>
<line x1="661.5" y1="559.3" x2="672.2" y2="559.3" stroke="#444" stroke-width="1.17"/>
<rect x="778.7" y="552.3" width="10.7" height="12.3" fill="#fff" stroke="#444" stroke-width="1.3"/>
<line x1="778.7" y1="559.3" x2="789.4" y2="559.3" stroke="#444" stroke-width="1.17"/>
<clipPath id="cl2"><path d="M598.2,552.3 L608.1,552.3 L608.1,741.8 L598.2,741.8 Z"/></clipPath>
<path d="M595.2,552.3L405.7,741.8M600.2,552.3L410.7,741.8M605.2,552.3L415.7,741.8M610.2,552.3L420.7,741.8M615.2,552.3L425.7,741.8M620.2,552.3L430.7,741.8M625.2,552.3L435.7,741.8M630.2,552.3L440.7,741.8M635.2,552.3L445.7,741.8M640.2,552.3L450.7,741.8M645.2,552.3L455.7,741.8M650.2,552.3L460.7,741.8M655.2,552.3L465.7,741.8M660.2,552.3L470.7,741.8M665.2,552.3L475.7,741.8M670.2,552.3L480.7,741.8M675.2,552.3L485.7,741.8M680.2,552.3L490.7,741.8M685.2,552.3L495.7,741.8M690.2,552.3L500.7,741.8M695.2,552.3L505.7,741.8M700.2,552.3L510.7,741.8M705.2,552.3L515.7,741.8M710.2,552.3L520.7,741.8M715.2,552.3L525.7,741.8M720.2,552.3L530.7,741.8M725.2,552.3L535.7,741.8M730.2,552.3L540.7,741.8M735.2,552.3L545.7,741.8M740.2,552.3L550.7,741.8M745.2,552.3L555.7,741.8M750.2,552.3L560.7,741.8M755.2,552.3L565.7,741.8M760.2,552.3L570.7,741.8M765.2,552.3L575.7,741.8M770.2,552.3L580.7,741.8M775.2,552.3L585.7,741.8M780.2,552.3L590.7,741.8M785.2,552.3L595.7,741.8M790.2,552.3L600.7,741.8M795.2,552.3L605.7,741.8M800.2,552.3L610.7,741.8" stroke="#111" stroke-width="1.35" fill="none" clip-path="url(#cl2)"/>
<path d="M598.2,552.3 L608.1,552.3 L608.1,741.8 L598.2,741.8 Z" fill="none" stroke="#444" stroke-width="1.43"/>
<clipPath id="cl3"><path d="M842.8000000000001,552.3 L852.7,552.3 L852.7,741.8 L842.8000000000001,741.8 Z"/></clipPath>
<path d="M840.2,552.3L650.7,741.8M845.2,552.3L655.7,741.8M850.2,552.3L660.7,741.8M855.2,552.3L665.7,741.8M860.2,552.3L670.7,741.8M865.2,552.3L675.7,741.8M870.2,552.3L680.7,741.8M875.2,552.3L685.7,741.8M880.2,552.3L690.7,741.8M885.2,552.3L695.7,741.8M890.2,552.3L700.7,741.8M895.2,552.3L705.7,741.8M900.2,552.3L710.7,741.8M905.2,552.3L715.7,741.8M910.2,552.3L720.7,741.8M915.2,552.3L725.7,741.8M920.2,552.3L730.7,741.8M925.2,552.3L735.7,741.8M930.2,552.3L740.7,741.8M935.2,552.3L745.7,741.8M940.2,552.3L750.7,741.8M945.2,552.3L755.7,741.8M950.2,552.3L760.7,741.8M955.2,552.3L765.7,741.8M960.2,552.3L770.7,741.8M965.2,552.3L775.7,741.8M970.2,552.3L780.7,741.8M975.2,552.3L785.7,741.8M980.2,552.3L790.7,741.8M985.2,552.3L795.7,741.8M990.2,552.3L800.7,741.8M995.2,552.3L805.7,741.8M1000.2,552.3L810.7,741.8M1005.2,552.3L815.7,741.8M1010.2,552.3L820.7,741.8M1015.2,552.3L825.7,741.8M1020.2,552.3L830.7,741.8M1025.2,552.3L835.7,741.8M1030.2,552.3L840.7,741.8M1035.2,552.3L845.7,741.8M1040.2,552.3L850.7,741.8M1045.2,552.3L855.7,741.8" stroke="#111" stroke-width="1.35" fill="none" clip-path="url(#cl3)"/>
<path d="M842.8000000000001,552.3 L852.7,552.3 L852.7,741.8 L842.8000000000001,741.8 Z" fill="none" stroke="#444" stroke-width="1.43"/>
<line x1="598.2" y1="741.8" x2="852.7" y2="741.8" stroke="#444" stroke-width="1.43"/>
<rect x="627.7" y="524.9" width="5.8" height="7.4" fill="#fff" stroke="#444" stroke-width="1.17"/>
<rect x="634.4" y="524.9" width="5.8" height="7.4" fill="#fff" stroke="#444" stroke-width="1.17"/>
<rect x="650.5" y="524.9" width="5.8" height="7.4" fill="#fff" stroke="#444" stroke-width="1.17"/>
<rect x="657.7" y="524.9" width="5.8" height="7.4" fill="#fff" stroke="#444" stroke-width="1.17"/>
<rect x="672.6" y="524.9" width="5.8" height="7.4" fill="#fff" stroke="#444" stroke-width="1.17"/>
<rect x="686.6" y="524.9" width="5.8" height="7.4" fill="#fff" stroke="#444" stroke-width="1.17"/>
<rect x="700.9" y="524.9" width="5.8" height="7.4" fill="#fff" stroke="#444" stroke-width="1.17"/>
<rect x="715.5" y="524.9" width="5.8" height="7.4" fill="#fff" stroke="#444" stroke-width="1.17"/>
<rect x="817.4" y="524.9" width="5.8" height="7.4" fill="#fff" stroke="#444" stroke-width="1.17"/>
<rect x="810.7" y="524.9" width="5.8" height="7.4" fill="#fff" stroke="#444" stroke-width="1.17"/>
<rect x="794.6" y="524.9" width="5.8" height="7.4" fill="#fff" stroke="#444" stroke-width="1.17"/>
<rect x="787.4" y="524.9" width="5.8" height="7.4" fill="#fff" stroke="#444" stroke-width="1.17"/>
<rect x="772.5" y="524.9" width="5.8" height="7.4" fill="#fff" stroke="#444" stroke-width="1.17"/>
<rect x="758.5" y="524.9" width="5.8" height="7.4" fill="#fff" stroke="#444" stroke-width="1.17"/>
<rect x="744.2" y="524.9" width="5.8" height="7.4" fill="#fff" stroke="#444" stroke-width="1.17"/>
<rect x="729.6" y="524.9" width="5.8" height="7.4" fill="#fff" stroke="#444" stroke-width="1.17"/>
<rect x="658.6" y="596.2" width="8.7" height="28.8" fill="#fff" stroke="#444" stroke-width="1.3"/>
<rect x="783.6" y="596.2" width="8.7" height="28.8" fill="#fff" stroke="#444" stroke-width="1.3"/>
<line x1="608.1" y1="627.3" x2="630" y2="627.3" stroke="#444" stroke-width="1.17"/>
<line x1="608.1" y1="630.3" x2="630" y2="630.3" stroke="#444" stroke-width="1.17"/>
<path d="M630,604.9 L630,645 Q630.5,648 635,652 Q637,654 637,657 L637,689 Q637,695.5 631,697 L630,697.5 L630,712.5 L640,733" fill="none" stroke="#444" stroke-width="1.3" />
<line x1="641.7" y1="604.9" x2="641.7" y2="644.8" stroke="#444" stroke-width="1.17"/>
<line x1="608.1" y1="690.3" x2="636" y2="690.3" stroke="#444" stroke-width="1.17"/>
<line x1="640" y1="655" x2="640" y2="716.6" stroke="#444" stroke-width="1.17"/>
<line x1="608.1" y1="732.3" x2="620" y2="732.3" stroke="#444" stroke-width="1.17"/>
<line x1="842.8" y1="627.3" x2="820.9" y2="627.3" stroke="#444" stroke-width="1.17"/>
<line x1="842.8" y1="630.3" x2="820.9" y2="630.3" stroke="#444" stroke-width="1.17"/>
<path d="M820.9,604.9 L820.9,645 Q820.4,648 815.9,652 Q813.9,654 813.9,657 L813.9,689 Q813.9,695.5 819.9,697 L820.9,697.5 L820.9,712.5 L810.9,733" fill="none" stroke="#444" stroke-width="1.3" />
<line x1="809.2" y1="604.9" x2="809.2" y2="644.8" stroke="#444" stroke-width="1.17"/>
<line x1="842.8" y1="690.3" x2="814.9" y2="690.3" stroke="#444" stroke-width="1.17"/>
<line x1="810.9" y1="655" x2="810.9" y2="716.6" stroke="#444" stroke-width="1.17"/>
<line x1="842.8" y1="732.3" x2="830.9" y2="732.3" stroke="#444" stroke-width="1.17"/>
<line x1="641.7" y1="644.8" x2="809.2" y2="644.8" stroke="#444" stroke-width="1.3"/>
<line x1="637" y1="650.7" x2="813.9" y2="650.7" stroke="#444" stroke-width="1.3"/>
<line x1="638" y1="725.9" x2="812.9" y2="725.9" stroke="#444" stroke-width="1.17"/>
<line x1="608.1" y1="732.3" x2="842.8" y2="732.3" stroke="#444" stroke-width="2.08"/>
<line x1="650.4" y1="716.6" x2="686" y2="716.6" stroke="#444" stroke-width="1.17"/>
<line x1="764.9" y1="716.6" x2="800.5" y2="716.6" stroke="#444" stroke-width="1.17"/>
<line x1="643.4" y1="650.7" x2="643.4" y2="716.6" stroke="#444" stroke-width="1.17"/>
<line x1="650.4" y1="650.7" x2="650.4" y2="716.6" stroke="#444" stroke-width="1.17"/>
<line x1="646.9" y1="654" x2="646.9" y2="714.6" stroke="#444" stroke-width="1.04" stroke-dasharray="6,2.5,1.5,2.5"/>
<line x1="643.4" y1="716.6" x2="650.4" y2="716.6" stroke="#444" stroke-width="1.17"/>
<line x1="686" y1="650.7" x2="686" y2="716.6" stroke="#444" stroke-width="1.17"/>
<line x1="693" y1="650.7" x2="693" y2="716.6" stroke="#444" stroke-width="1.17"/>
<line x1="689.5" y1="654" x2="689.5" y2="714.6" stroke="#444" stroke-width="1.04" stroke-dasharray="6,2.5,1.5,2.5"/>
<line x1="686" y1="716.6" x2="693" y2="716.6" stroke="#444" stroke-width="1.17"/>
<line x1="700.6" y1="650.7" x2="700.6" y2="700.8" stroke="#444" stroke-width="1.17"/>
<line x1="707.6" y1="650.7" x2="707.6" y2="700.8" stroke="#444" stroke-width="1.17"/>
<line x1="704.1" y1="654" x2="704.1" y2="698.8" stroke="#444" stroke-width="1.04" stroke-dasharray="6,2.5,1.5,2.5"/>
<line x1="714.6" y1="650.7" x2="714.6" y2="700.8" stroke="#444" stroke-width="1.17"/>
<line x1="721.6" y1="650.7" x2="721.6" y2="700.8" stroke="#444" stroke-width="1.17"/>
<line x1="718.1" y1="654" x2="718.1" y2="698.8" stroke="#444" stroke-width="1.04" stroke-dasharray="6,2.5,1.5,2.5"/>
<line x1="800.5" y1="650.7" x2="800.5" y2="716.6" stroke="#444" stroke-width="1.17"/>
<line x1="807.5" y1="650.7" x2="807.5" y2="716.6" stroke="#444" stroke-width="1.17"/>
<line x1="804" y1="654" x2="804" y2="714.6" stroke="#444" stroke-width="1.04" stroke-dasharray="6,2.5,1.5,2.5"/>
<line x1="800.5" y1="716.6" x2="807.5" y2="716.6" stroke="#444" stroke-width="1.17"/>
<line x1="757.9" y1="650.7" x2="757.9" y2="716.6" stroke="#444" stroke-width="1.17"/>
<line x1="764.9" y1="650.7" x2="764.9" y2="716.6" stroke="#444" stroke-width="1.17"/>
<line x1="761.4" y1="654" x2="761.4" y2="714.6" stroke="#444" stroke-width="1.04" stroke-dasharray="6,2.5,1.5,2.5"/>
<line x1="757.9" y1="716.6" x2="764.9" y2="716.6" stroke="#444" stroke-width="1.17"/>
<line x1="743.3" y1="650.7" x2="743.3" y2="700.8" stroke="#444" stroke-width="1.17"/>
<line x1="750.3" y1="650.7" x2="750.3" y2="700.8" stroke="#444" stroke-width="1.17"/>
<line x1="746.8" y1="654" x2="746.8" y2="698.8" stroke="#444" stroke-width="1.04" stroke-dasharray="6,2.5,1.5,2.5"/>
<line x1="729.3" y1="650.7" x2="729.3" y2="700.8" stroke="#444" stroke-width="1.17"/>
<line x1="736.3" y1="650.7" x2="736.3" y2="700.8" stroke="#444" stroke-width="1.17"/>
<line x1="732.8" y1="654" x2="732.8" y2="698.8" stroke="#444" stroke-width="1.04" stroke-dasharray="6,2.5,1.5,2.5"/>
<line x1="697" y1="700.8" x2="753.9" y2="700.8" stroke="#444" stroke-width="1.17"/>
<line x1="718.1" y1="731.8" x2="718.1" y2="741.7" stroke="#444" stroke-width="1.56"/>
<line x1="725.45" y1="505" x2="725.45" y2="790" stroke="#444" stroke-width="1.17" stroke-dasharray="30,5,5,5"/>
<line x1="629.7" y1="697" x2="629.7" y2="866.3" stroke="#444" stroke-width="1.17"/>
<line x1="646.7" y1="716" x2="646.7" y2="830.2" stroke="#444" stroke-width="1.17"/>
<line x1="689.6" y1="716" x2="689.6" y2="804.5" stroke="#444" stroke-width="1.17"/>
<line x1="746.8" y1="716" x2="746.8" y2="775.3" stroke="#444" stroke-width="1.17"/>
<line x1="761.5" y1="716" x2="761.5" y2="804.5" stroke="#444" stroke-width="1.17"/>
<line x1="804.2" y1="716" x2="804.2" y2="830.2" stroke="#444" stroke-width="1.17"/>
<line x1="821" y1="697" x2="821" y2="866.3" stroke="#444" stroke-width="1.17"/>
<line x1="684.5" y1="770" x2="782.5" y2="770" stroke="#444" stroke-width="1.3"/>
<polygon points="746.8,770 735.8,772 735.8,768" fill="#fff" stroke="#444" stroke-width="1.17"/>
<polygon points="761.5,770 772.5,768 772.5,772" fill="#fff" stroke="#444" stroke-width="1.17"/>
<text x="685.7" y="767.9" font-family="Liberation Sans" font-size="17.8" font-weight="normal" text-anchor="start" fill="#222" textLength="37.3" lengthAdjust="spacingAndGlyphs"  stroke="#fff" stroke-width="0.3">0.50</text>
<line x1="689.6" y1="798.7" x2="761.5" y2="798.7" stroke="#444" stroke-width="1.3"/>
<polygon points="689.6,798.7 700.6,796.7 700.6,800.7" fill="#fff" stroke="#444" stroke-width="1.17"/>
<polygon points="761.5,798.7 750.5,800.7 750.5,796.7" fill="#fff" stroke="#444" stroke-width="1.17"/>
<text x="706.2" y="795.9" font-family="Liberation Sans" font-size="17.8" font-weight="normal" text-anchor="start" fill="#222" textLength="38.3" lengthAdjust="spacingAndGlyphs"  stroke="#fff" stroke-width="0.3">2.50</text>
<line x1="646.7" y1="825" x2="804.2" y2="825" stroke="#444" stroke-width="1.3"/>
<polygon points="646.7,825 657.7,823 657.7,827" fill="#fff" stroke="#444" stroke-width="1.17"/>
<polygon points="804.2,825 793.2,827 793.2,823" fill="#fff" stroke="#444" stroke-width="1.17"/>
<text x="706.2" y="822" font-family="Liberation Sans" font-size="17.8" font-weight="normal" text-anchor="start" fill="#222" textLength="38.3" lengthAdjust="spacingAndGlyphs"  stroke="#fff" stroke-width="0.3">5.50</text>
<line x1="629.7" y1="860.5" x2="821" y2="860.5" stroke="#444" stroke-width="1.3"/>
<polygon points="629.7,860.5 640.7,858.5 640.7,862.5" fill="#fff" stroke="#444" stroke-width="1.17"/>
<polygon points="821,860.5 810,862.5 810,858.5" fill="#fff" stroke="#444" stroke-width="1.17"/>
<text x="674" y="850" font-family="Liberation Sans" font-size="17.8" font-weight="normal" text-anchor="start" fill="#222" textLength="37.3" lengthAdjust="spacingAndGlyphs"  stroke="#fff" stroke-width="0.3">6.69</text>
<text x="711.8" y="841.8" font-family="Liberation Sans" font-size="17.5" font-weight="normal" text-anchor="start" fill="#222" textLength="64.9" lengthAdjust="spacingAndGlyphs"  stroke="#fff" stroke-width="0.3">+0.045</text>
<text x="711.8" y="858.2" font-family="Liberation Sans" font-size="17.5" font-weight="normal" text-anchor="start" fill="#222" textLength="64.9" lengthAdjust="spacingAndGlyphs"  stroke="#fff" stroke-width="0.3">–0.055</text>
<line x1="483.3" y1="604.9" x2="610" y2="604.9" stroke="#444" stroke-width="1.17"/>
<line x1="565" y1="694.6" x2="640" y2="694.6" stroke="#444" stroke-width="1.17"/>
<line x1="511.7" y1="703.2" x2="697.7" y2="703.2" stroke="#444" stroke-width="1.17"/>
<line x1="511.7" y1="717.2" x2="683.7" y2="717.2" stroke="#444" stroke-width="1.17"/>
<line x1="483.3" y1="731" x2="630" y2="731" stroke="#444" stroke-width="1.17"/>
<line x1="490" y1="604.9" x2="490" y2="731" stroke="#444" stroke-width="1.3"/>
<polygon points="490,604.9 492,615.9 488,615.9" fill="#fff" stroke="#444" stroke-width="1.17"/>
<polygon points="490,731 488,720 492,720" fill="#fff" stroke="#444" stroke-width="1.17"/>
<text x="488.61" y="706.9" font-family="Liberation Sans" font-size="17.8" font-weight="normal" text-anchor="start" fill="#222" textLength="78.2" lengthAdjust="spacingAndGlyphs" transform="rotate(-90 488.61 706.9)"  stroke="#fff" stroke-width="0.3">4.45±0.1</text>
<line x1="517.7" y1="598" x2="517.7" y2="740" stroke="#444" stroke-width="1.3"/>
<polygon points="517.7,703.2 515.7,692.2 519.7,692.2" fill="#fff" stroke="#444" stroke-width="1.17"/>
<polygon points="517.7,717.2 519.7,728.2 515.7,728.2" fill="#fff" stroke="#444" stroke-width="1.17"/>
<text x="516.71" y="680" font-family="Liberation Sans" font-size="17.8" font-weight="normal" text-anchor="start" fill="#222" textLength="81.7" lengthAdjust="spacingAndGlyphs" transform="rotate(-90 516.71 680)"  stroke="#fff" stroke-width="0.3">0.50±0.2</text>
<line x1="543.3" y1="604.9" x2="543.3" y2="703.2" stroke="#444" stroke-width="1.3"/>
<polygon points="543.3,604.9 545.3,615.9 541.3,615.9" fill="#fff" stroke="#444" stroke-width="1.17"/>
<polygon points="543.3,703.2 541.3,692.2 545.3,692.2" fill="#fff" stroke="#444" stroke-width="1.17"/>
<text x="541.81" y="700" font-family="Liberation Sans" font-size="17.8" font-weight="normal" text-anchor="start" fill="#222" textLength="91.3" lengthAdjust="spacingAndGlyphs" transform="rotate(-90 541.81 700)"  stroke="#fff" stroke-width="0.3">3.45±0.15</text>
<line x1="569.3" y1="604.9" x2="569.3" y2="694.6" stroke="#444" stroke-width="1.3"/>
<polygon points="569.3,604.9 571.3,615.9 567.3,615.9" fill="#fff" stroke="#444" stroke-width="1.17"/>
<polygon points="569.3,694.6 567.3,683.6 571.3,683.6" fill="#fff" stroke="#444" stroke-width="1.17"/>
<text x="568.11" y="690" font-family="Liberation Sans" font-size="17.8" font-weight="normal" text-anchor="start" fill="#222" textLength="83.3" lengthAdjust="spacingAndGlyphs" transform="rotate(-90 568.11 690)"  stroke="#fff" stroke-width="0.3">3.15±0.1</text>
<text x="657.7" y="903" font-family="Liberation Serif" font-size="26.5" font-weight="normal" text-anchor="start" fill="#111" textLength="140.5" lengthAdjust="spacingAndGlyphs" stroke="#111" stroke-width="0.55">SECTION B–B</text>
<line x1="658" y1="912.8" x2="793.3" y2="912.8" stroke="#555" stroke-width="1.56"/>
<line x1="658" y1="917.3" x2="793.3" y2="917.3" stroke="#555" stroke-width="1.56"/>
<text x="668.5" y="941.3" font-family="Liberation Serif" font-size="26.5" font-weight="normal" text-anchor="start" fill="#111" textLength="113.2" lengthAdjust="spacingAndGlyphs" stroke="#111" stroke-width="0.55">SCALE 1:1</text>
<clipPath id="cl4"><path d="M1057.6,534 L1066.3,534 L1066.3,741.75 L1060,741.75 Q1057.6,738 1057.6,733 Z"/></clipPath>
<path d="M1053.5,534L845.75,741.75M1058.5,534L850.75,741.75M1063.5,534L855.75,741.75M1068.5,534L860.75,741.75M1073.5,534L865.75,741.75M1078.5,534L870.75,741.75M1083.5,534L875.75,741.75M1088.5,534L880.75,741.75M1093.5,534L885.75,741.75M1098.5,534L890.75,741.75M1103.5,534L895.75,741.75M1108.5,534L900.75,741.75M1113.5,534L905.75,741.75M1118.5,534L910.75,741.75M1123.5,534L915.75,741.75M1128.5,534L920.75,741.75M1133.5,534L925.75,741.75M1138.5,534L930.75,741.75M1143.5,534L935.75,741.75M1148.5,534L940.75,741.75M1153.5,534L945.75,741.75M1158.5,534L950.75,741.75M1163.5,534L955.75,741.75M1168.5,534L960.75,741.75M1173.5,534L965.75,741.75M1178.5,534L970.75,741.75M1183.5,534L975.75,741.75M1188.5,534L980.75,741.75M1193.5,534L985.75,741.75M1198.5,534L990.75,741.75M1203.5,534L995.75,741.75M1208.5,534L1000.75,741.75M1213.5,534L1005.75,741.75M1218.5,534L1010.75,741.75M1223.5,534L1015.75,741.75M1228.5,534L1020.75,741.75M1233.5,534L1025.75,741.75M1238.5,534L1030.75,741.75M1243.5,534L1035.75,741.75M1248.5,534L1040.75,741.75M1253.5,534L1045.75,741.75M1258.5,534L1050.75,741.75M1263.5,534L1055.75,741.75M1268.5,534L1060.75,741.75M1273.5,534L1065.75,741.75M1278.5,534L1070.75,741.75" stroke="#111" stroke-width="1.35" fill="none" clip-path="url(#cl4)"/>
<path d="M1057.6,534 L1066.3,534 L1066.3,741.75 L1060,741.75 Q1057.6,738 1057.6,733 Z" fill="none" stroke="#444" stroke-width="1.43"/>
<clipPath id="cl5"><path d="M1139.8,576 L1148,576 L1148,741.75 L1142.5,741.75 Q1139.8,738 1139.8,733 Z"/></clipPath>
<path d="M1136.5,576L970.75,741.75M1141.5,576L975.75,741.75M1146.5,576L980.75,741.75M1151.5,576L985.75,741.75M1156.5,576L990.75,741.75M1161.5,576L995.75,741.75M1166.5,576L1000.75,741.75M1171.5,576L1005.75,741.75M1176.5,576L1010.75,741.75M1181.5,576L1015.75,741.75M1186.5,576L1020.75,741.75M1191.5,576L1025.75,741.75M1196.5,576L1030.75,741.75M1201.5,576L1035.75,741.75M1206.5,576L1040.75,741.75M1211.5,576L1045.75,741.75M1216.5,576L1050.75,741.75M1221.5,576L1055.75,741.75M1226.5,576L1060.75,741.75M1231.5,576L1065.75,741.75M1236.5,576L1070.75,741.75M1241.5,576L1075.75,741.75M1246.5,576L1080.75,741.75M1251.5,576L1085.75,741.75M1256.5,576L1090.75,741.75M1261.5,576L1095.75,741.75M1266.5,576L1100.75,741.75M1271.5,576L1105.75,741.75M1276.5,576L1110.75,741.75M1281.5,576L1115.75,741.75M1286.5,576L1120.75,741.75M1291.5,576L1125.75,741.75M1296.5,576L1130.75,741.75M1301.5,576L1135.75,741.75M1306.5,576L1140.75,741.75M1311.5,576L1145.75,741.75M1316.5,576L1150.75,741.75" stroke="#111" stroke-width="1.35" fill="none" clip-path="url(#cl5)"/>
<path d="M1139.8,576 L1148,576 L1148,741.75 L1142.5,741.75 Q1139.8,738 1139.8,733 Z" fill="none" stroke="#444" stroke-width="1.43"/>
<line x1="1139.8" y1="613.4" x2="1148" y2="613.4" stroke="#444" stroke-width="1.17"/>
<line x1="1139.8" y1="640.8" x2="1148" y2="640.8" stroke="#444" stroke-width="1.17"/>
<line x1="1139.8" y1="680" x2="1148" y2="680" stroke="#444" stroke-width="1.17"/>
<line x1="1139.8" y1="704.4" x2="1148" y2="704.4" stroke="#444" stroke-width="1.17"/>
<clipPath id="cl6"><path d="M1066.3,531.7 L1147.4,531.7 L1147.4,576 L1139.8,576 L1139.8,604.6 L1120,604.6 L1120,644.9 L1112.4,650.2 L1112.4,727 Q1112.4,732.4 1105,733 L1100.5,733 Q1093.2,732.4 1093.2,727 L1093.2,650.2 L1085.6,644.9 L1085.6,604.6 L1066.3,604.6 Z"/></clipPath>
<path d="M857.7,531.7L1059,733M865.45,531.7L1066.75,733M873.2,531.7L1074.5,733M880.95,531.7L1082.25,733M888.7,531.7L1090,733M896.45,531.7L1097.75,733M904.2,531.7L1105.5,733M911.95,531.7L1113.25,733M919.7,531.7L1121,733M927.45,531.7L1128.75,733M935.2,531.7L1136.5,733M942.95,531.7L1144.25,733M950.7,531.7L1152,733M958.45,531.7L1159.75,733M966.2,531.7L1167.5,733M973.95,531.7L1175.25,733M981.7,531.7L1183,733M989.45,531.7L1190.75,733M997.2,531.7L1198.5,733M1004.95,531.7L1206.25,733M1012.7,531.7L1214,733M1020.45,531.7L1221.75,733M1028.2,531.7L1229.5,733M1035.95,531.7L1237.25,733M1043.7,531.7L1245,733M1051.45,531.7L1252.75,733M1059.2,531.7L1260.5,733M1066.95,531.7L1268.25,733M1074.7,531.7L1276,733M1082.45,531.7L1283.75,733M1090.2,531.7L1291.5,733M1097.95,531.7L1299.25,733M1105.7,531.7L1307,733M1113.45,531.7L1314.75,733M1121.2,531.7L1322.5,733M1128.95,531.7L1330.25,733M1136.7,531.7L1338,733M1144.45,531.7L1345.75,733M1152.2,531.7L1353.5,733M1062.6,531.7L861.3,733M1070.35,531.7L869.05,733M1078.1,531.7L876.8,733M1085.85,531.7L884.55,733M1093.6,531.7L892.3,733M1101.35,531.7L900.05,733M1109.1,531.7L907.8,733M1116.85,531.7L915.55,733M1124.6,531.7L923.3,733M1132.35,531.7L931.05,733M1140.1,531.7L938.8,733M1147.85,531.7L946.55,733M1155.6,531.7L954.3,733M1163.35,531.7L962.05,733M1171.1,531.7L969.8,733M1178.85,531.7L977.55,733M1186.6,531.7L985.3,733M1194.35,531.7L993.05,733M1202.1,531.7L1000.8,733M1209.85,531.7L1008.55,733M1217.6,531.7L1016.3,733M1225.35,531.7L1024.05,733M1233.1,531.7L1031.8,733M1240.85,531.7L1039.55,733M1248.6,531.7L1047.3,733M1256.35,531.7L1055.05,733M1264.1,531.7L1062.8,733M1271.85,531.7L1070.55,733M1279.6,531.7L1078.3,733M1287.35,531.7L1086.05,733M1295.1,531.7L1093.8,733M1302.85,531.7L1101.55,733M1310.6,531.7L1109.3,733M1318.35,531.7L1117.05,733M1326.1,531.7L1124.8,733M1333.85,531.7L1132.55,733M1341.6,531.7L1140.3,733M1349.35,531.7L1148.05,733" stroke="#1a1a1a" stroke-width="1.3" fill="none" clip-path="url(#cl6)"/>
<path d="M1066.3,531.7 L1147.4,531.7 L1147.4,576 L1139.8,576 L1139.8,604.6 L1120,604.6 L1120,644.9 L1112.4,650.2 L1112.4,727 Q1112.4,732.4 1105,733 L1100.5,733 Q1093.2,732.4 1093.2,727 L1093.2,650.2 L1085.6,644.9 L1085.6,604.6 L1066.3,604.6 Z" fill="none" stroke="#444" stroke-width="1.43"/>
<path d="M1147.4,552.7 L1103.1,552.7 L1103.1,559.5 L1108.5,564.9 L1147.4,564.9 Z" fill="#fff" stroke="#444" stroke-width="1.3" />
<line x1="1103.1" y1="496" x2="1103.1" y2="518.7" stroke="#444" stroke-width="1.3"/>
<line x1="1103.1" y1="521.3" x2="1103.1" y2="750.5" stroke="#444" stroke-width="1.17" stroke-dasharray="60,5,6,5"/>
<path d="M1147.4,531.7 L1159.7,531.7 Q1176.6,533 1176.6,545 L1176.6,549 Q1175,557 1167,559 " fill="none" stroke="#444" stroke-width="1.3" />
<path d="M1147.4,555 L1163.5,555 Q1166.7,555.5 1166.7,559 L1166.7,566 Q1166.7,569.6 1163,569.6 L1147.4,569.6" fill="none" stroke="#444" stroke-width="1.3" />
<line x1="1161.5" y1="555" x2="1161.5" y2="569.6" stroke="#444" stroke-width="1.04"/>
<rect x="1147.3" y="525.3" width="2.7" height="6.4" fill="none" stroke="#444" stroke-width="1.17"/>
<path d="M1148,642 Q1151,643 1150.8,648 L1150.8,653 Q1151,656 1155,656 L1166.7,656 Q1176.6,657 1176.6,665.3 L1176.6,672.3 Q1176,678.8 1166.7,679.3 L1148,679.3" fill="none" stroke="#444" stroke-width="1.3" />
<line x1="1066.3" y1="733" x2="1139.8" y2="733" stroke="#444" stroke-width="1.17"/>
<line x1="1057.6" y1="741.75" x2="1148" y2="741.75" stroke="#444" stroke-width="1.43"/>
<line x1="1120" y1="627.4" x2="1139.8" y2="627.4" stroke="#444" stroke-width="1.17"/>
<line x1="1120" y1="630.1" x2="1139.8" y2="630.1" stroke="#444" stroke-width="1.17"/>
<line x1="1120" y1="641.4" x2="1139.8" y2="641.4" stroke="#444" stroke-width="1.17"/>
<line x1="1112.4" y1="679.3" x2="1139.8" y2="679.3" stroke="#444" stroke-width="1.17"/>
<line x1="1112.4" y1="690" x2="1139.8" y2="690" stroke="#444" stroke-width="1.17"/>
<line x1="1085.6" y1="647" x2="1085.6" y2="815.8" stroke="#444" stroke-width="1.17"/>
<line x1="1120" y1="647" x2="1120" y2="815.8" stroke="#444" stroke-width="1.17"/>
<line x1="1093.2" y1="727" x2="1093.2" y2="786" stroke="#444" stroke-width="1.17"/>
<line x1="1112.8" y1="727" x2="1112.8" y2="786" stroke="#444" stroke-width="1.17"/>
<line x1="1029.3" y1="502.4" x2="1150.7" y2="502.4" stroke="#444" stroke-width="1.3"/>
<polygon points="1103.3,502.4 1114.3,500.4 1114.3,504.4" fill="#fff" stroke="#444" stroke-width="1.17"/>
<polygon points="1150.7,502.4 1139.7,504.4 1139.7,500.4" fill="#fff" stroke="#444" stroke-width="1.17"/>
<line x1="1150.7" y1="496" x2="1150.7" y2="522.7" stroke="#444" stroke-width="1.3"/>
<text x="1030.7" y="500.9" font-family="Liberation Sans" font-size="17.8" font-weight="normal" text-anchor="start" fill="#222" textLength="60" lengthAdjust="spacingAndGlyphs"  stroke="#fff" stroke-width="0.3">CL1.68</text>
<line x1="1016.3" y1="605" x2="1057.6" y2="605" stroke="#444" stroke-width="1.17"/>
<line x1="1016.3" y1="741.75" x2="1056" y2="741.75" stroke="#444" stroke-width="1.17"/>
<line x1="1021.8" y1="605" x2="1021.8" y2="741.75" stroke="#444" stroke-width="1.3"/>
<polygon points="1021.8,605 1023.8,616 1019.8,616" fill="#fff" stroke="#444" stroke-width="1.17"/>
<polygon points="1021.8,741.75 1019.8,730.75 1023.8,730.75" fill="#fff" stroke="#444" stroke-width="1.17"/>
<text x="1021.11" y="692" font-family="Liberation Sans" font-size="17.8" font-weight="normal" text-anchor="start" fill="#222" textLength="38.7" lengthAdjust="spacingAndGlyphs" transform="rotate(-90 1021.11 692)"  stroke="#fff" stroke-width="0.3">4.80</text>
<line x1="976" y1="781.4" x2="1133.7" y2="781.4" stroke="#444" stroke-width="1.3"/>
<polygon points="1093.2,781.4 1082.2,783.4 1082.2,779.4" fill="#fff" stroke="#444" stroke-width="1.17"/>
<polygon points="1112.8,781.4 1123.8,779.4 1123.8,783.4" fill="#fff" stroke="#444" stroke-width="1.17"/>
<text x="976" y="778.8" font-family="Liberation Sans" font-size="17.8" font-weight="normal" text-anchor="start" fill="#222" textLength="93.4" lengthAdjust="spacingAndGlyphs"  stroke="#fff" stroke-width="0.3">0.70±0.05</text>
<line x1="981" y1="810" x2="1119.9" y2="810" stroke="#444" stroke-width="1.3"/>
<polygon points="1085.6,810 1096.6,808 1096.6,812" fill="#fff" stroke="#444" stroke-width="1.17"/>
<polygon points="1120,810 1109,812 1109,808" fill="#fff" stroke="#444" stroke-width="1.17"/>
<text x="981" y="807.7" font-family="Liberation Sans" font-size="17.8" font-weight="normal" text-anchor="start" fill="#222" textLength="91.6" lengthAdjust="spacingAndGlyphs"  stroke="#fff" stroke-width="0.3">1.20±0.05</text>
<text x="1017.9" y="868.8" font-family="Liberation Serif" font-size="26.5" font-weight="normal" text-anchor="start" fill="#111" textLength="139.9" lengthAdjust="spacingAndGlyphs" stroke="#111" stroke-width="0.55">SECTION A–A</text>
<line x1="1017.9" y1="878.5" x2="1154.6" y2="878.5" stroke="#555" stroke-width="1.56"/>
<line x1="1017.9" y1="882.7" x2="1154.6" y2="882.7" stroke="#555" stroke-width="1.56"/>
<text x="1029.2" y="906.5" font-family="Liberation Serif" font-size="26.5" font-weight="normal" text-anchor="start" fill="#111" textLength="114.1" lengthAdjust="spacingAndGlyphs" stroke="#111" stroke-width="0.55">SCALE 1:1</text>
<defs>
<pattern id="bh" patternUnits="userSpaceOnUse" width="5" height="5" patternTransform="translate(1 0)">
<path d="M0,0 L5,5 M-1,4 L1,6 M4,-1 L6,1" stroke="#222" stroke-width="1.1"/>
</pattern>
<pattern id="bh2" patternUnits="userSpaceOnUse" width="5.6" height="5.6">
<path d="M0,0 L5.6,5.6 M-1,4.6 L1,6.6 M4.6,-1 L6.6,1" stroke="#222" stroke-width="1.05"/>
</pattern>
</defs>
<clipPath id="cl7"><path d="M204.7,1047.1 L222.7,1047.1 L222.7,1079.6 L204.7,1079.6 Z"/></clipPath>
<path d="M172,1047.1L204.5,1079.6M177.1,1047.1L209.6,1079.6M182.2,1047.1L214.7,1079.6M187.3,1047.1L219.8,1079.6M192.4,1047.1L224.9,1079.6M197.5,1047.1L230,1079.6M202.6,1047.1L235.1,1079.6M207.7,1047.1L240.2,1079.6M212.8,1047.1L245.3,1079.6M217.9,1047.1L250.4,1079.6M223,1047.1L255.5,1079.6" stroke="#111" stroke-width="1.3" fill="none" clip-path="url(#cl7)"/>
<path d="M204.7,1047.1 L222.7,1047.1 L222.7,1079.6 L204.7,1079.6 Z" fill="none" stroke="#444" stroke-width="1.69"/>
<line x1="213.7" y1="1043.1" x2="213.7" y2="1083.6" stroke="#444" stroke-width="1.04" stroke-dasharray="6,2,2,2"/>
<clipPath id="cl8"><path d="M227.3,1047.1 L245.3,1047.1 L245.3,1079.6 L227.3,1079.6 Z"/></clipPath>
<path d="M192.4,1047.1L224.9,1079.6M197.5,1047.1L230,1079.6M202.6,1047.1L235.1,1079.6M207.7,1047.1L240.2,1079.6M212.8,1047.1L245.3,1079.6M217.9,1047.1L250.4,1079.6M223,1047.1L255.5,1079.6M228.1,1047.1L260.6,1079.6M233.2,1047.1L265.7,1079.6M238.3,1047.1L270.8,1079.6M243.4,1047.1L275.9,1079.6M248.5,1047.1L281,1079.6" stroke="#111" stroke-width="1.3" fill="none" clip-path="url(#cl8)"/>
<path d="M227.3,1047.1 L245.3,1047.1 L245.3,1079.6 L227.3,1079.6 Z" fill="none" stroke="#444" stroke-width="1.69"/>
<line x1="236.3" y1="1043.1" x2="236.3" y2="1083.6" stroke="#444" stroke-width="1.04" stroke-dasharray="6,2,2,2"/>
<clipPath id="cl9"><path d="M250.3,1047.1 L259.6,1047.1 L259.6,1079.6 L250.3,1079.6 Z"/></clipPath>
<path d="M212.8,1047.1L245.3,1079.6M217.9,1047.1L250.4,1079.6M223,1047.1L255.5,1079.6M228.1,1047.1L260.6,1079.6M233.2,1047.1L265.7,1079.6M238.3,1047.1L270.8,1079.6M243.4,1047.1L275.9,1079.6M248.5,1047.1L281,1079.6M253.6,1047.1L286.1,1079.6M258.7,1047.1L291.2,1079.6M263.8,1047.1L296.3,1079.6" stroke="#111" stroke-width="1.3" fill="none" clip-path="url(#cl9)"/>
<path d="M250.3,1047.1 L259.6,1047.1 L259.6,1079.6 L250.3,1079.6 Z" fill="none" stroke="#444" stroke-width="1.69"/>
<line x1="254.95" y1="1043.1" x2="254.95" y2="1083.6" stroke="#444" stroke-width="1.04" stroke-dasharray="6,2,2,2"/>
<clipPath id="cl10"><path d="M264.4,1047.1 L273.7,1047.1 L273.7,1079.6 L264.4,1079.6 Z"/></clipPath>
<path d="M228.1,1047.1L260.6,1079.6M233.2,1047.1L265.7,1079.6M238.3,1047.1L270.8,1079.6M243.4,1047.1L275.9,1079.6M248.5,1047.1L281,1079.6M253.6,1047.1L286.1,1079.6M258.7,1047.1L291.2,1079.6M263.8,1047.1L296.3,1079.6M268.9,1047.1L301.4,1079.6M274,1047.1L306.5,1079.6" stroke="#111" stroke-width="1.3" fill="none" clip-path="url(#cl10)"/>
<path d="M264.4,1047.1 L273.7,1047.1 L273.7,1079.6 L264.4,1079.6 Z" fill="none" stroke="#444" stroke-width="1.69"/>
<line x1="269.05" y1="1043.1" x2="269.05" y2="1083.6" stroke="#444" stroke-width="1.04" stroke-dasharray="6,2,2,2"/>
<clipPath id="cl11"><path d="M278.7,1047.1 L288,1047.1 L288,1079.6 L278.7,1079.6 Z"/></clipPath>
<path d="M243.4,1047.1L275.9,1079.6M248.5,1047.1L281,1079.6M253.6,1047.1L286.1,1079.6M258.7,1047.1L291.2,1079.6M263.8,1047.1L296.3,1079.6M268.9,1047.1L301.4,1079.6M274,1047.1L306.5,1079.6M279.1,1047.1L311.6,1079.6M284.2,1047.1L316.7,1079.6M289.3,1047.1L321.8,1079.6" stroke="#111" stroke-width="1.3" fill="none" clip-path="url(#cl11)"/>
<path d="M278.7,1047.1 L288,1047.1 L288,1079.6 L278.7,1079.6 Z" fill="none" stroke="#444" stroke-width="1.69"/>
<line x1="283.35" y1="1043.1" x2="283.35" y2="1083.6" stroke="#444" stroke-width="1.04" stroke-dasharray="6,2,2,2"/>
<clipPath id="cl12"><path d="M293.3,1047.1 L302.4,1047.1 L302.4,1079.6 L293.3,1079.6 Z"/></clipPath>
<path d="M258.7,1047.1L291.2,1079.6M263.8,1047.1L296.3,1079.6M268.9,1047.1L301.4,1079.6M274,1047.1L306.5,1079.6M279.1,1047.1L311.6,1079.6M284.2,1047.1L316.7,1079.6M289.3,1047.1L321.8,1079.6M294.4,1047.1L326.9,1079.6M299.5,1047.1L332,1079.6M304.6,1047.1L337.1,1079.6" stroke="#111" stroke-width="1.3" fill="none" clip-path="url(#cl12)"/>
<path d="M293.3,1047.1 L302.4,1047.1 L302.4,1079.6 L293.3,1079.6 Z" fill="none" stroke="#444" stroke-width="1.69"/>
<line x1="297.85" y1="1043.1" x2="297.85" y2="1083.6" stroke="#444" stroke-width="1.04" stroke-dasharray="6,2,2,2"/>
<clipPath id="cl13"><path d="M308.2,1047.1 L317.3,1047.1 L317.3,1079.6 L308.2,1079.6 Z"/></clipPath>
<path d="M274,1047.1L306.5,1079.6M279.1,1047.1L311.6,1079.6M284.2,1047.1L316.7,1079.6M289.3,1047.1L321.8,1079.6M294.4,1047.1L326.9,1079.6M299.5,1047.1L332,1079.6M304.6,1047.1L337.1,1079.6M309.7,1047.1L342.2,1079.6M314.8,1047.1L347.3,1079.6M319.9,1047.1L352.4,1079.6" stroke="#111" stroke-width="1.3" fill="none" clip-path="url(#cl13)"/>
<path d="M308.2,1047.1 L317.3,1047.1 L317.3,1079.6 L308.2,1079.6 Z" fill="none" stroke="#444" stroke-width="1.69"/>
<line x1="312.75" y1="1043.1" x2="312.75" y2="1083.6" stroke="#444" stroke-width="1.04" stroke-dasharray="6,2,2,2"/>
<clipPath id="cl14"><path d="M322.6,1047.1 L331.9,1047.1 L331.9,1079.6 L322.6,1079.6 Z"/></clipPath>
<path d="M289.3,1047.1L321.8,1079.6M294.4,1047.1L326.9,1079.6M299.5,1047.1L332,1079.6M304.6,1047.1L337.1,1079.6M309.7,1047.1L342.2,1079.6M314.8,1047.1L347.3,1079.6M319.9,1047.1L352.4,1079.6M325,1047.1L357.5,1079.6M330.1,1047.1L362.6,1079.6M335.2,1047.1L367.7,1079.6" stroke="#111" stroke-width="1.3" fill="none" clip-path="url(#cl14)"/>
<path d="M322.6,1047.1 L331.9,1047.1 L331.9,1079.6 L322.6,1079.6 Z" fill="none" stroke="#444" stroke-width="1.69"/>
<line x1="327.25" y1="1043.1" x2="327.25" y2="1083.6" stroke="#444" stroke-width="1.04" stroke-dasharray="6,2,2,2"/>
<clipPath id="cl15"><path d="M336.9,1047.1 L346.2,1047.1 L346.2,1079.6 L336.9,1079.6 Z"/></clipPath>
<path d="M299.5,1047.1L332,1079.6M304.6,1047.1L337.1,1079.6M309.7,1047.1L342.2,1079.6M314.8,1047.1L347.3,1079.6M319.9,1047.1L352.4,1079.6M325,1047.1L357.5,1079.6M330.1,1047.1L362.6,1079.6M335.2,1047.1L367.7,1079.6M340.3,1047.1L372.8,1079.6M345.4,1047.1L377.9,1079.6M350.5,1047.1L383,1079.6" stroke="#111" stroke-width="1.3" fill="none" clip-path="url(#cl15)"/>
<path d="M336.9,1047.1 L346.2,1047.1 L346.2,1079.6 L336.9,1079.6 Z" fill="none" stroke="#444" stroke-width="1.69"/>
<line x1="341.55" y1="1043.1" x2="341.55" y2="1083.6" stroke="#444" stroke-width="1.04" stroke-dasharray="6,2,2,2"/>
<clipPath id="cl16"><path d="M351,1047.1 L360.3,1047.1 L360.3,1079.6 L351,1079.6 Z"/></clipPath>
<path d="M314.8,1047.1L347.3,1079.6M319.9,1047.1L352.4,1079.6M325,1047.1L357.5,1079.6M330.1,1047.1L362.6,1079.6M335.2,1047.1L367.7,1079.6M340.3,1047.1L372.8,1079.6M345.4,1047.1L377.9,1079.6M350.5,1047.1L383,1079.6M355.6,1047.1L388.1,1079.6M360.7,1047.1L393.2,1079.6" stroke="#111" stroke-width="1.3" fill="none" clip-path="url(#cl16)"/>
<path d="M351,1047.1 L360.3,1047.1 L360.3,1079.6 L351,1079.6 Z" fill="none" stroke="#444" stroke-width="1.69"/>
<line x1="355.65" y1="1043.1" x2="355.65" y2="1083.6" stroke="#444" stroke-width="1.04" stroke-dasharray="6,2,2,2"/>
<clipPath id="cl17"><path d="M365.3,1047.1 L383.3,1047.1 L383.3,1079.6 L365.3,1079.6 Z"/></clipPath>
<path d="M330.1,1047.1L362.6,1079.6M335.2,1047.1L367.7,1079.6M340.3,1047.1L372.8,1079.6M345.4,1047.1L377.9,1079.6M350.5,1047.1L383,1079.6M355.6,1047.1L388.1,1079.6M360.7,1047.1L393.2,1079.6M365.8,1047.1L398.3,1079.6M370.9,1047.1L403.4,1079.6M376,1047.1L408.5,1079.6M381.1,1047.1L413.6,1079.6M386.2,1047.1L418.7,1079.6" stroke="#111" stroke-width="1.3" fill="none" clip-path="url(#cl17)"/>
<path d="M365.3,1047.1 L383.3,1047.1 L383.3,1079.6 L365.3,1079.6 Z" fill="none" stroke="#444" stroke-width="1.69"/>
<line x1="374.3" y1="1043.1" x2="374.3" y2="1083.6" stroke="#444" stroke-width="1.04" stroke-dasharray="6,2,2,2"/>
<clipPath id="cl18"><path d="M387.9,1047.1 L405.9,1047.1 L405.9,1079.6 L387.9,1079.6 Z"/></clipPath>
<path d="M350.5,1047.1L383,1079.6M355.6,1047.1L388.1,1079.6M360.7,1047.1L393.2,1079.6M365.8,1047.1L398.3,1079.6M370.9,1047.1L403.4,1079.6M376,1047.1L408.5,1079.6M381.1,1047.1L413.6,1079.6M386.2,1047.1L418.7,1079.6M391.3,1047.1L423.8,1079.6M396.4,1047.1L428.9,1079.6M401.5,1047.1L434,1079.6M406.6,1047.1L439.1,1079.6" stroke="#111" stroke-width="1.3" fill="none" clip-path="url(#cl18)"/>
<path d="M387.9,1047.1 L405.9,1047.1 L405.9,1079.6 L387.9,1079.6 Z" fill="none" stroke="#444" stroke-width="1.69"/>
<line x1="396.9" y1="1043.1" x2="396.9" y2="1083.6" stroke="#444" stroke-width="1.04" stroke-dasharray="6,2,2,2"/>
<clipPath id="cl19"><path d="M167.2,1063.9 A15,15 0 0 1 197.2,1063.9 L197.2,1095.1 A15,15 0 0 1 167.2,1095.1 Z M173.7,1063.9 L173.7,1095.1 A8.5,8.5 0 0 0 190.7,1095.1 L190.7,1063.9 A8.5,8.5 0 0 0 173.7,1063.9 Z" clip-rule="evenodd"/></clipPath>
<path d="M102.5,1048.9L163.7,1110.1M108.1,1048.9L169.3,1110.1M113.7,1048.9L174.9,1110.1M119.3,1048.9L180.5,1110.1M124.9,1048.9L186.1,1110.1M130.5,1048.9L191.7,1110.1M136.1,1048.9L197.3,1110.1M141.7,1048.9L202.9,1110.1M147.3,1048.9L208.5,1110.1M152.9,1048.9L214.1,1110.1M158.5,1048.9L219.7,1110.1M164.1,1048.9L225.3,1110.1M169.7,1048.9L230.9,1110.1M175.3,1048.9L236.5,1110.1M180.9,1048.9L242.1,1110.1M186.5,1048.9L247.7,1110.1M192.1,1048.9L253.3,1110.1M197.7,1048.9L258.9,1110.1" stroke="#111" stroke-width="1.3" fill="none" clip-path="url(#cl19)"/>
<path d="M167.2,1063.9 A15,15 0 0 1 197.2,1063.9 L197.2,1095.1 A15,15 0 0 1 167.2,1095.1 Z M173.7,1063.9 L173.7,1095.1 A8.5,8.5 0 0 0 190.7,1095.1 L190.7,1063.9 A8.5,8.5 0 0 0 173.7,1063.9 Z" fill="none" stroke="#444" stroke-width="1.69"/>
<line x1="182.2" y1="1042.9" x2="182.2" y2="1116.1" stroke="#444" stroke-width="1.17" stroke-dasharray="10,3,3,3"/>
<line x1="161.2" y1="1079.5" x2="203.2" y2="1079.5" stroke="#444" stroke-width="1.17" stroke-dasharray="8,3,3,3"/>
<clipPath id="cl20"><path d="M167.2,1188.1 A15,15 0 0 1 197.2,1188.1 L197.2,1209.4 A15,15 0 0 1 167.2,1209.4 Z M173.7,1188.1 L173.7,1209.4 A8.5,8.5 0 0 0 190.7,1209.4 L190.7,1188.1 A8.5,8.5 0 0 0 173.7,1188.1 Z" clip-rule="evenodd"/></clipPath>
<path d="M114.7,1173.1L166,1224.4M120.3,1173.1L171.6,1224.4M125.9,1173.1L177.2,1224.4M131.5,1173.1L182.8,1224.4M137.1,1173.1L188.4,1224.4M142.7,1173.1L194,1224.4M148.3,1173.1L199.6,1224.4M153.9,1173.1L205.2,1224.4M159.5,1173.1L210.8,1224.4M165.1,1173.1L216.4,1224.4M170.7,1173.1L222,1224.4M176.3,1173.1L227.6,1224.4M181.9,1173.1L233.2,1224.4M187.5,1173.1L238.8,1224.4M193.1,1173.1L244.4,1224.4M198.7,1173.1L250,1224.4" stroke="#111" stroke-width="1.3" fill="none" clip-path="url(#cl20)"/>
<path d="M167.2,1188.1 A15,15 0 0 1 197.2,1188.1 L197.2,1209.4 A15,15 0 0 1 167.2,1209.4 Z M173.7,1188.1 L173.7,1209.4 A8.5,8.5 0 0 0 190.7,1209.4 L190.7,1188.1 A8.5,8.5 0 0 0 173.7,1188.1 Z" fill="none" stroke="#444" stroke-width="1.69"/>
<line x1="182.2" y1="1167.1" x2="182.2" y2="1230.4" stroke="#444" stroke-width="1.17" stroke-dasharray="10,3,3,3"/>
<line x1="161.2" y1="1198.75" x2="203.2" y2="1198.75" stroke="#444" stroke-width="1.17" stroke-dasharray="8,3,3,3"/>
<clipPath id="cl21"><path d="M413.4,1063.9 A15,15 0 0 1 443.4,1063.9 L443.4,1095.1 A15,15 0 0 1 413.4,1095.1 Z M419.9,1063.9 L419.9,1095.1 A8.5,8.5 0 0 0 436.9,1095.1 L436.9,1063.9 A8.5,8.5 0 0 0 419.9,1063.9 Z" clip-rule="evenodd"/></clipPath>
<path d="M348.9,1048.9L410.1,1110.1M354.5,1048.9L415.7,1110.1M360.1,1048.9L421.3,1110.1M365.7,1048.9L426.9,1110.1M371.3,1048.9L432.5,1110.1M376.9,1048.9L438.1,1110.1M382.5,1048.9L443.7,1110.1M388.1,1048.9L449.3,1110.1M393.7,1048.9L454.9,1110.1M399.3,1048.9L460.5,1110.1M404.9,1048.9L466.1,1110.1M410.5,1048.9L471.7,1110.1M416.1,1048.9L477.3,1110.1M421.7,1048.9L482.9,1110.1M427.3,1048.9L488.5,1110.1M432.9,1048.9L494.1,1110.1M438.5,1048.9L499.7,1110.1M444.1,1048.9L505.3,1110.1" stroke="#111" stroke-width="1.3" fill="none" clip-path="url(#cl21)"/>
<path d="M413.4,1063.9 A15,15 0 0 1 443.4,1063.9 L443.4,1095.1 A15,15 0 0 1 413.4,1095.1 Z M419.9,1063.9 L419.9,1095.1 A8.5,8.5 0 0 0 436.9,1095.1 L436.9,1063.9 A8.5,8.5 0 0 0 419.9,1063.9 Z" fill="none" stroke="#444" stroke-width="1.69"/>
<line x1="428.4" y1="1042.9" x2="428.4" y2="1116.1" stroke="#444" stroke-width="1.17" stroke-dasharray="10,3,3,3"/>
<line x1="407.4" y1="1079.5" x2="449.4" y2="1079.5" stroke="#444" stroke-width="1.17" stroke-dasharray="8,3,3,3"/>
<clipPath id="cl22"><path d="M413.4,1188.1 A15,15 0 0 1 443.4,1188.1 L443.4,1209.4 A15,15 0 0 1 413.4,1209.4 Z M419.9,1188.1 L419.9,1209.4 A8.5,8.5 0 0 0 436.9,1209.4 L436.9,1188.1 A8.5,8.5 0 0 0 419.9,1188.1 Z" clip-rule="evenodd"/></clipPath>
<path d="M361.1,1173.1L412.4,1224.4M366.7,1173.1L418,1224.4M372.3,1173.1L423.6,1224.4M377.9,1173.1L429.2,1224.4M383.5,1173.1L434.8,1224.4M389.1,1173.1L440.4,1224.4M394.7,1173.1L446,1224.4M400.3,1173.1L451.6,1224.4M405.9,1173.1L457.2,1224.4M411.5,1173.1L462.8,1224.4M417.1,1173.1L468.4,1224.4M422.7,1173.1L474,1224.4M428.3,1173.1L479.6,1224.4M433.9,1173.1L485.2,1224.4M439.5,1173.1L490.8,1224.4M445.1,1173.1L496.4,1224.4" stroke="#111" stroke-width="1.3" fill="none" clip-path="url(#cl22)"/>
<path d="M413.4,1188.1 A15,15 0 0 1 443.4,1188.1 L443.4,1209.4 A15,15 0 0 1 413.4,1209.4 Z M419.9,1188.1 L419.9,1209.4 A8.5,8.5 0 0 0 436.9,1209.4 L436.9,1188.1 A8.5,8.5 0 0 0 419.9,1188.1 Z" fill="none" stroke="#444" stroke-width="1.69"/>
<line x1="428.4" y1="1167.1" x2="428.4" y2="1230.4" stroke="#444" stroke-width="1.17" stroke-dasharray="10,3,3,3"/>
<line x1="407.4" y1="1198.75" x2="449.4" y2="1198.75" stroke="#444" stroke-width="1.17" stroke-dasharray="8,3,3,3"/>
<circle cx="222.7" cy="1093.4" r="9.3" fill="none" stroke="#444" stroke-width="1.43"/>
<line x1="210.7" y1="1093.4" x2="234.7" y2="1093.4" stroke="#444" stroke-width="1.04" stroke-dasharray="6,2,3,2"/>
<line x1="222.7" y1="1081" x2="222.7" y2="1106" stroke="#444" stroke-width="1.04" stroke-dasharray="6,2,3,2"/>
<circle cx="387.9" cy="1093.4" r="9.3" fill="none" stroke="#444" stroke-width="1.43"/>
<line x1="375.9" y1="1093.4" x2="399.9" y2="1093.4" stroke="#444" stroke-width="1.04" stroke-dasharray="6,2,3,2"/>
<line x1="387.9" y1="1081" x2="387.9" y2="1106" stroke="#444" stroke-width="1.04" stroke-dasharray="6,2,3,2"/>
<line x1="102.9" y1="1048.9" x2="166" y2="1048.9" stroke="#444" stroke-width="1.17"/>
<line x1="137" y1="1055.7" x2="172" y2="1055.7" stroke="#444" stroke-width="1.17"/>
<line x1="137" y1="1103.7" x2="172" y2="1103.7" stroke="#444" stroke-width="1.17"/>
<line x1="102.9" y1="1110.1" x2="180" y2="1110.1" stroke="#444" stroke-width="1.17"/>
<line x1="71.4" y1="1079.6" x2="204" y2="1079.6" stroke="#444" stroke-width="1.17"/>
<line x1="102.9" y1="1172.9" x2="180" y2="1172.9" stroke="#444" stroke-width="1.17"/>
<line x1="137" y1="1178.6" x2="172" y2="1178.6" stroke="#444" stroke-width="1.17"/>
<line x1="137" y1="1218.6" x2="172" y2="1218.6" stroke="#444" stroke-width="1.17"/>
<line x1="102.9" y1="1224.3" x2="180" y2="1224.3" stroke="#444" stroke-width="1.17"/>
<line x1="71.4" y1="1198.7" x2="200" y2="1198.7" stroke="#444" stroke-width="1.17"/>
<line x1="445" y1="1198.7" x2="550.5" y2="1198.7" stroke="#444" stroke-width="1.17"/>
<line x1="405" y1="1047.1" x2="550.5" y2="1047.1" stroke="#444" stroke-width="1.17"/>
<line x1="406" y1="1079.6" x2="514.5" y2="1079.6" stroke="#444" stroke-width="1.17"/>
<line x1="398" y1="1093.4" x2="476.3" y2="1093.4" stroke="#444" stroke-width="1.17"/>
<line x1="108.6" y1="960" x2="108.6" y2="1110.1" stroke="#444" stroke-width="1.3"/>
<polygon points="108.6,1048.9 110.6,1059.9 106.6,1059.9" fill="#fff" stroke="#444" stroke-width="1.17"/>
<polygon points="108.6,1110.1 106.6,1099.1 110.6,1099.1" fill="#fff" stroke="#444" stroke-width="1.17"/>
<text x="103.51" y="1037.1" font-family="Liberation Sans" font-size="17.8" font-weight="normal" text-anchor="start" fill="#222" textLength="77.1" lengthAdjust="spacingAndGlyphs" transform="rotate(-90 103.51 1037.1)"  stroke="#fff" stroke-width="0.3">2.10(2X)</text>
<line x1="142.3" y1="967" x2="142.3" y2="1103.7" stroke="#444" stroke-width="1.3"/>
<polygon points="142.3,1055.7 144.3,1066.7 140.3,1066.7" fill="#fff" stroke="#444" stroke-width="1.17"/>
<polygon points="142.3,1103.7 140.3,1092.7 144.3,1092.7" fill="#fff" stroke="#444" stroke-width="1.17"/>
<text x="136.41" y="1042.9" font-family="Liberation Sans" font-size="17.8" font-weight="normal" text-anchor="start" fill="#222" textLength="75.9" lengthAdjust="spacingAndGlyphs" transform="rotate(-90 136.41 1042.9)"  stroke="#fff" stroke-width="0.3">1.70(2X)</text>
<line x1="77.7" y1="1079.6" x2="77.7" y2="1198.7" stroke="#444" stroke-width="1.3"/>
<polygon points="77.7,1079.6 79.7,1090.6 75.7,1090.6" fill="#fff" stroke="#444" stroke-width="1.17"/>
<polygon points="77.7,1198.7 75.7,1187.7 79.7,1187.7" fill="#fff" stroke="#444" stroke-width="1.17"/>
<text x="72.11" y="1177" font-family="Liberation Sans" font-size="17.8" font-weight="normal" text-anchor="start" fill="#222" textLength="77" lengthAdjust="spacingAndGlyphs" transform="rotate(-90 72.11 1177)"  stroke="#fff" stroke-width="0.3">4.18(2X)</text>
<line x1="108.6" y1="1172.9" x2="108.6" y2="1311.4" stroke="#444" stroke-width="1.3"/>
<polygon points="108.6,1172.9 110.6,1183.9 106.6,1183.9" fill="#fff" stroke="#444" stroke-width="1.17"/>
<polygon points="108.6,1224.3 106.6,1213.3 110.6,1213.3" fill="#fff" stroke="#444" stroke-width="1.17"/>
<text x="103.51" y="1311" font-family="Liberation Sans" font-size="17.8" font-weight="normal" text-anchor="start" fill="#222" textLength="74" lengthAdjust="spacingAndGlyphs" transform="rotate(-90 103.51 1311)"  stroke="#fff" stroke-width="0.3">1.80(2X)</text>
<line x1="142.3" y1="1178.6" x2="142.3" y2="1305.7" stroke="#444" stroke-width="1.3"/>
<polygon points="142.3,1178.6 144.3,1189.6 140.3,1189.6" fill="#fff" stroke="#444" stroke-width="1.17"/>
<polygon points="142.3,1218.6 140.3,1207.6 144.3,1207.6" fill="#fff" stroke="#444" stroke-width="1.17"/>
<text x="136.41" y="1305.7" font-family="Liberation Sans" font-size="17.8" font-weight="normal" text-anchor="start" fill="#222" textLength="75.7" lengthAdjust="spacingAndGlyphs" transform="rotate(-90 136.41 1305.7)"  stroke="#fff" stroke-width="0.3">1.40(2X)</text>
<text x="105.7" y="1134.3" font-family="Liberation Sans" font-size="17.8" font-weight="normal" text-anchor="start" fill="#222" textLength="87.2" lengthAdjust="spacingAndGlyphs"  stroke="#fff" stroke-width="0.3">ø0.65(2X)</text>
<polyline points="105.7,1141.4 195.7,1141.4 215.3,1102" fill="none" stroke="#444" stroke-width="1.17"/>
<polygon points="215.3,1102 212.72,1110.77 209.86,1109.35" fill="#fff" stroke="#444" stroke-width="1.17"/>
<line x1="213.9" y1="1085" x2="213.9" y2="1232" stroke="#444" stroke-width="1.17"/>
<line x1="222.9" y1="1085" x2="222.9" y2="1206" stroke="#444" stroke-width="1.17"/>
<line x1="236.9" y1="1085" x2="236.9" y2="1180" stroke="#444" stroke-width="1.17"/>
<line x1="254.9" y1="1085" x2="254.9" y2="1153" stroke="#444" stroke-width="1.17"/>
<line x1="269.3" y1="1085" x2="269.3" y2="1124" stroke="#444" stroke-width="1.17"/>
<line x1="341.3" y1="1085" x2="341.3" y2="1124" stroke="#444" stroke-width="1.17"/>
<line x1="354.8" y1="1085" x2="354.8" y2="1153" stroke="#444" stroke-width="1.17"/>
<line x1="373.7" y1="1085" x2="373.7" y2="1180" stroke="#444" stroke-width="1.17"/>
<line x1="387.2" y1="1085" x2="387.2" y2="1206" stroke="#444" stroke-width="1.17"/>
<line x1="396.6" y1="1085" x2="396.6" y2="1232" stroke="#444" stroke-width="1.17"/>
<line x1="269.3" y1="1118.7" x2="341.3" y2="1118.7" stroke="#444" stroke-width="1.3"/>
<polygon points="269.3,1118.7 280.3,1116.7 280.3,1120.7" fill="#fff" stroke="#444" stroke-width="1.17"/>
<polygon points="341.3,1118.7 330.3,1120.7 330.3,1116.7" fill="#fff" stroke="#444" stroke-width="1.17"/>
<text x="286.3" y="1116.5" font-family="Liberation Sans" font-size="17.8" font-weight="normal" text-anchor="start" fill="#222" textLength="38" lengthAdjust="spacingAndGlyphs"  stroke="#fff" stroke-width="0.3">2.50</text>
<line x1="254.9" y1="1147.9" x2="354.8" y2="1147.9" stroke="#444" stroke-width="1.3"/>
<polygon points="254.9,1147.9 265.9,1145.9 265.9,1149.9" fill="#fff" stroke="#444" stroke-width="1.17"/>
<polygon points="354.8,1147.9 343.8,1149.9 343.8,1145.9" fill="#fff" stroke="#444" stroke-width="1.17"/>
<text x="286.3" y="1145.7" font-family="Liberation Sans" font-size="17.8" font-weight="normal" text-anchor="start" fill="#222" textLength="38" lengthAdjust="spacingAndGlyphs"  stroke="#fff" stroke-width="0.3">3.50</text>
<line x1="236.9" y1="1174" x2="373.7" y2="1174" stroke="#444" stroke-width="1.3"/>
<polygon points="236.9,1174 247.9,1172 247.9,1176" fill="#fff" stroke="#444" stroke-width="1.17"/>
<polygon points="373.7,1174 362.7,1176 362.7,1172" fill="#fff" stroke="#444" stroke-width="1.17"/>
<text x="286.3" y="1171.8" font-family="Liberation Sans" font-size="17.8" font-weight="normal" text-anchor="start" fill="#222" textLength="38" lengthAdjust="spacingAndGlyphs"  stroke="#fff" stroke-width="0.3">4.80</text>
<line x1="222.9" y1="1200.1" x2="387.2" y2="1200.1" stroke="#444" stroke-width="1.3"/>
<polygon points="222.9,1200.1 233.9,1198.1 233.9,1202.1" fill="#fff" stroke="#444" stroke-width="1.17"/>
<polygon points="387.2,1200.1 376.2,1202.1 376.2,1198.1" fill="#fff" stroke="#444" stroke-width="1.17"/>
<text x="286.3" y="1197.9" font-family="Liberation Sans" font-size="17.8" font-weight="normal" text-anchor="start" fill="#222" textLength="38" lengthAdjust="spacingAndGlyphs"  stroke="#fff" stroke-width="0.3">5.78</text>
<line x1="213.9" y1="1226.7" x2="396.6" y2="1226.7" stroke="#444" stroke-width="1.3"/>
<polygon points="213.9,1226.7 224.9,1224.7 224.9,1228.7" fill="#fff" stroke="#444" stroke-width="1.17"/>
<polygon points="396.6,1226.7 385.6,1228.7 385.6,1224.7" fill="#fff" stroke="#444" stroke-width="1.17"/>
<text x="286.3" y="1224.5" font-family="Liberation Sans" font-size="17.8" font-weight="normal" text-anchor="start" fill="#222" textLength="38" lengthAdjust="spacingAndGlyphs"  stroke="#fff" stroke-width="0.3">6.40</text>
<line x1="305.3" y1="1082" x2="305.3" y2="1272" stroke="#444" stroke-width="1.17" stroke-dasharray="40,4,6,4"/>
<line x1="162.6" y1="1258.6" x2="447.9" y2="1258.6" stroke="#444" stroke-width="1.3"/>
<line x1="182.2" y1="1226" x2="182.2" y2="1306" stroke="#444" stroke-width="1.17"/>
<line x1="428.4" y1="1226" x2="428.4" y2="1306" stroke="#444" stroke-width="1.17"/>
<line x1="182.2" y1="1300" x2="428.4" y2="1300" stroke="#444" stroke-width="1.3"/>
<polygon points="182.2,1300 193.2,1298 193.2,1302" fill="#fff" stroke="#444" stroke-width="1.17"/>
<polygon points="428.4,1300 417.4,1302 417.4,1298" fill="#fff" stroke="#444" stroke-width="1.17"/>
<text x="286.3" y="1297.5" font-family="Liberation Sans" font-size="17.8" font-weight="normal" text-anchor="start" fill="#222" textLength="38" lengthAdjust="spacingAndGlyphs"  stroke="#fff" stroke-width="0.3">8.64</text>
<polyline points="433.5,1260 448,1291 458,1291" fill="none" stroke="#444" stroke-width="1.17"/>
<polygon points="433.5,1260 438.76,1267.47 435.86,1268.83" fill="#fff" stroke="#444" stroke-width="1.17"/>
<text x="460.5" y="1298.7" font-family="Liberation Sans" font-size="17.8" font-weight="normal" text-anchor="start" fill="#222" textLength="126" lengthAdjust="spacingAndGlyphs"  stroke="#fff" stroke-width="0.3">PRODUCT EDGE</text>
<line x1="420" y1="1226" x2="420" y2="1250" stroke="#444" stroke-width="1.17"/>
<line x1="437.1" y1="1226" x2="437.1" y2="1250" stroke="#444" stroke-width="1.17"/>
<line x1="397.5" y1="1242.4" x2="536" y2="1242.4" stroke="#444" stroke-width="1.3"/>
<polygon points="420,1242.4 409,1244.4 409,1240.4" fill="#fff" stroke="#444" stroke-width="1.17"/>
<polygon points="437.1,1242.4 448.1,1240.4 448.1,1244.4" fill="#fff" stroke="#444" stroke-width="1.17"/>
<text x="459.6" y="1237" font-family="Liberation Sans" font-size="17.8" font-weight="normal" text-anchor="start" fill="#222" textLength="76.5" lengthAdjust="spacingAndGlyphs"  stroke="#fff" stroke-width="0.3">0.60(4X)</text>
<line x1="471.8" y1="1093.4" x2="471.8" y2="1198.7" stroke="#444" stroke-width="1.3"/>
<polygon points="471.8,1093.4 473.8,1104.4 469.8,1104.4" fill="#fff" stroke="#444" stroke-width="1.17"/>
<polygon points="471.8,1198.7 469.8,1187.7 473.8,1187.7" fill="#fff" stroke="#444" stroke-width="1.17"/>
<text x="466.01" y="1184.3" font-family="Liberation Sans" font-size="17.8" font-weight="normal" text-anchor="start" fill="#222" textLength="76.8" lengthAdjust="spacingAndGlyphs" transform="rotate(-90 466.01 1184.3)"  stroke="#fff" stroke-width="0.3">3.68(2X)</text>
<line x1="507.8" y1="1079.6" x2="507.8" y2="1198.7" stroke="#444" stroke-width="1.3"/>
<polygon points="507.8,1079.6 509.8,1090.6 505.8,1090.6" fill="#fff" stroke="#444" stroke-width="1.17"/>
<polygon points="507.8,1198.7 505.8,1187.7 509.8,1187.7" fill="#fff" stroke="#444" stroke-width="1.17"/>
<text x="501.81" y="1183.4" font-family="Liberation Sans" font-size="17.8" font-weight="normal" text-anchor="start" fill="#222" textLength="88.4" lengthAdjust="spacingAndGlyphs" transform="rotate(-90 501.81 1183.4)"  stroke="#fff" stroke-width="0.3">4.17(12X)</text>
<line x1="543.8" y1="1047.1" x2="543.8" y2="1198.7" stroke="#444" stroke-width="1.3"/>
<polygon points="543.8,1047.1 545.8,1058.1 541.8,1058.1" fill="#fff" stroke="#444" stroke-width="1.17"/>
<polygon points="543.8,1198.7 541.8,1187.7 545.8,1187.7" fill="#fff" stroke="#444" stroke-width="1.17"/>
<text x="537.41" y="1167.3" font-family="Liberation Sans" font-size="17.8" font-weight="normal" text-anchor="start" fill="#222" textLength="88.4" lengthAdjust="spacingAndGlyphs" transform="rotate(-90 537.41 1167.3)"  stroke="#fff" stroke-width="0.3">5.32(12X)</text>
<line x1="283.2" y1="943.5" x2="283.2" y2="1047" stroke="#444" stroke-width="1.17"/>
<line x1="326.4" y1="943.5" x2="326.4" y2="1047" stroke="#444" stroke-width="1.17"/>
<line x1="234.8" y1="949.7" x2="326.4" y2="949.7" stroke="#444" stroke-width="1.3"/>
<polygon points="283.2,949.7 294.2,947.7 294.2,951.7" fill="#fff" stroke="#444" stroke-width="1.17"/>
<polygon points="326.4,949.7 315.4,951.7 315.4,947.7" fill="#fff" stroke="#444" stroke-width="1.17"/>
<text x="234.8" y="948.1" font-family="Liberation Sans" font-size="17.8" font-weight="normal" text-anchor="start" fill="#222" textLength="37" lengthAdjust="spacingAndGlyphs"  stroke="#fff" stroke-width="0.3">1.50</text>
<line x1="298" y1="968" x2="298" y2="1047" stroke="#444" stroke-width="1.17"/>
<line x1="311.9" y1="968" x2="311.9" y2="1047" stroke="#444" stroke-width="1.17"/>
<line x1="235.7" y1="974.3" x2="334" y2="974.3" stroke="#444" stroke-width="1.3"/>
<polygon points="298,974.3 287,976.3 287,972.3" fill="#fff" stroke="#444" stroke-width="1.17"/>
<polygon points="311.9,974.3 322.9,972.3 322.9,976.3" fill="#fff" stroke="#444" stroke-width="1.17"/>
<text x="235.7" y="972.8" font-family="Liberation Sans" font-size="17.8" font-weight="normal" text-anchor="start" fill="#222" textLength="39.2" lengthAdjust="spacingAndGlyphs"  stroke="#fff" stroke-width="0.3">0.50</text>
<line x1="264.7" y1="995" x2="264.7" y2="1047" stroke="#444" stroke-width="1.17"/>
<line x1="273.3" y1="995" x2="273.3" y2="1047" stroke="#444" stroke-width="1.17"/>
<line x1="165.4" y1="1002.1" x2="294.9" y2="1002.1" stroke="#444" stroke-width="1.3"/>
<polygon points="264.7,1002.1 253.7,1004.1 253.7,1000.1" fill="#fff" stroke="#444" stroke-width="1.17"/>
<polygon points="273.3,1002.1 284.3,1000.1 284.3,1004.1" fill="#fff" stroke="#444" stroke-width="1.17"/>
<text x="165.4" y="996.5" font-family="Liberation Sans" font-size="17.8" font-weight="normal" text-anchor="start" fill="#222" textLength="76.5" lengthAdjust="spacingAndGlyphs"  stroke="#fff" stroke-width="0.3">0.30(8X)</text>
<line x1="387.4" y1="968" x2="387.4" y2="1047" stroke="#444" stroke-width="1.17"/>
<line x1="404.4" y1="968" x2="404.4" y2="1047" stroke="#444" stroke-width="1.17"/>
<line x1="365.8" y1="974.3" x2="504.6" y2="974.3" stroke="#444" stroke-width="1.3"/>
<polygon points="387.4,974.3 376.4,976.3 376.4,972.3" fill="#fff" stroke="#444" stroke-width="1.17"/>
<polygon points="404.4,974.3 415.4,972.3 415.4,976.3" fill="#fff" stroke="#444" stroke-width="1.17"/>
<text x="427.5" y="968.2" font-family="Liberation Sans" font-size="17.8" font-weight="normal" text-anchor="start" fill="#222" textLength="77.1" lengthAdjust="spacingAndGlyphs"  stroke="#fff" stroke-width="0.3">0.60(4X)</text>
<text x="153.3" y="1024.8" font-family="Liberation Serif" font-size="15" font-weight="bold" text-anchor="start" fill="#111" textLength="41.4" lengthAdjust="spacingAndGlyphs" stroke="#111" stroke-width="0.25">A1/B12</text>
<text x="200.7" y="1024.8" font-family="Liberation Serif" font-size="15" font-weight="bold" text-anchor="start" fill="#111" textLength="34" lengthAdjust="spacingAndGlyphs" stroke="#111" stroke-width="0.25">A4/B9</text>
<text x="239.6" y="1024.8" font-family="Liberation Serif" font-size="15" font-weight="bold" text-anchor="start" fill="#111" textLength="13.7" lengthAdjust="spacingAndGlyphs" stroke="#111" stroke-width="0.25">B8</text>
<text x="256" y="1024.8" font-family="Liberation Serif" font-size="15" font-weight="bold" text-anchor="start" fill="#111" textLength="13.1" lengthAdjust="spacingAndGlyphs" stroke="#111" stroke-width="0.25">A5</text>
<text x="272.7" y="1024.8" font-family="Liberation Serif" font-size="15" font-weight="bold" text-anchor="start" fill="#111" textLength="13" lengthAdjust="spacingAndGlyphs" stroke="#111" stroke-width="0.25">B7</text>
<text x="289.3" y="1024.8" font-family="Liberation Serif" font-size="15" font-weight="bold" text-anchor="start" fill="#111" textLength="13.8" lengthAdjust="spacingAndGlyphs" stroke="#111" stroke-width="0.25">A6</text>
<text x="306.5" y="1024.8" font-family="Liberation Serif" font-size="15" font-weight="bold" text-anchor="start" fill="#111" textLength="13.8" lengthAdjust="spacingAndGlyphs" stroke="#111" stroke-width="0.25">A7</text>
<text x="322" y="1024.8" font-family="Liberation Serif" font-size="15" font-weight="bold" text-anchor="start" fill="#111" textLength="14" lengthAdjust="spacingAndGlyphs" stroke="#111" stroke-width="0.25">B6</text>
<text x="338.5" y="1024.8" font-family="Liberation Serif" font-size="15" font-weight="bold" text-anchor="start" fill="#111" textLength="14" lengthAdjust="spacingAndGlyphs" stroke="#111" stroke-width="0.25">A8</text>
<text x="355" y="1024.8" font-family="Liberation Serif" font-size="15" font-weight="bold" text-anchor="start" fill="#111" textLength="14" lengthAdjust="spacingAndGlyphs" stroke="#111" stroke-width="0.25">B5</text>
<text x="372.5" y="1024.8" font-family="Liberation Serif" font-size="15" font-weight="bold" text-anchor="start" fill="#111" textLength="34" lengthAdjust="spacingAndGlyphs" stroke="#111" stroke-width="0.25">B4/A9</text>
<text x="413.5" y="1024.8" font-family="Liberation Serif" font-size="15" font-weight="bold" text-anchor="start" fill="#111" textLength="41.8" lengthAdjust="spacingAndGlyphs" stroke="#111" stroke-width="0.25">B1/A12</text>
<line x1="185" y1="1028" x2="213.7" y2="1045" stroke="#444" stroke-width="1.17"/>
<circle cx="210.69" cy="1043.22" r="1.4" fill="#fff" stroke="#444" stroke-width="1.04"/>
<line x1="214" y1="1028" x2="236.3" y2="1045" stroke="#444" stroke-width="1.17"/>
<circle cx="233.52" cy="1042.88" r="1.4" fill="#fff" stroke="#444" stroke-width="1.04"/>
<line x1="247" y1="1028" x2="254.95" y2="1045" stroke="#444" stroke-width="1.17"/>
<circle cx="253.47" cy="1041.83" r="1.4" fill="#fff" stroke="#444" stroke-width="1.04"/>
<line x1="261" y1="1028" x2="269.05" y2="1045" stroke="#444" stroke-width="1.17"/>
<circle cx="267.55" cy="1041.84" r="1.4" fill="#fff" stroke="#444" stroke-width="1.04"/>
<line x1="279" y1="1028" x2="283.35" y2="1045" stroke="#444" stroke-width="1.17"/>
<circle cx="282.48" cy="1041.61" r="1.4" fill="#fff" stroke="#444" stroke-width="1.04"/>
<line x1="296" y1="1028" x2="297.85" y2="1045" stroke="#444" stroke-width="1.17"/>
<circle cx="297.47" cy="1041.52" r="1.4" fill="#fff" stroke="#444" stroke-width="1.04"/>
<line x1="313" y1="1028" x2="312.75" y2="1045" stroke="#444" stroke-width="1.17"/>
<circle cx="312.8" cy="1041.5" r="1.4" fill="#fff" stroke="#444" stroke-width="1.04"/>
<line x1="330" y1="1028" x2="327.25" y2="1045" stroke="#444" stroke-width="1.17"/>
<circle cx="327.81" cy="1041.54" r="1.4" fill="#fff" stroke="#444" stroke-width="1.04"/>
<line x1="345" y1="1028" x2="341.55" y2="1045" stroke="#444" stroke-width="1.17"/>
<circle cx="342.25" cy="1041.57" r="1.4" fill="#fff" stroke="#444" stroke-width="1.04"/>
<line x1="362" y1="1028" x2="355.65" y2="1045" stroke="#444" stroke-width="1.17"/>
<circle cx="356.87" cy="1041.72" r="1.4" fill="#fff" stroke="#444" stroke-width="1.04"/>
<line x1="397" y1="1028" x2="374.3" y2="1045" stroke="#444" stroke-width="1.17"/>
<circle cx="377.1" cy="1042.9" r="1.4" fill="#fff" stroke="#444" stroke-width="1.04"/>
<line x1="428" y1="1028" x2="396.9" y2="1045" stroke="#444" stroke-width="1.17"/>
<circle cx="399.97" cy="1043.32" r="1.4" fill="#fff" stroke="#444" stroke-width="1.04"/>
<text x="120.8" y="1337.4" font-family="Liberation Sans" font-size="17.5" font-weight="normal" text-anchor="start" fill="#222" textLength="382.5" lengthAdjust="spacingAndGlyphs"  stroke="#fff" stroke-width="0.3">RECOMMEND P.C.B LAYOUT(COMPONENT SIDE)</text>
<line x1="120.8" y1="1341.4" x2="503.3" y2="1341.4" stroke="#444" stroke-width="1.3"/>
<line x1="120.8" y1="1345" x2="503.3" y2="1345" stroke="#444" stroke-width="1.3"/>
<text x="143.3" y="1363" font-family="Liberation Sans" font-size="17.5" font-weight="normal" text-anchor="start" fill="#222" textLength="330.7" lengthAdjust="spacingAndGlyphs"  stroke="#fff" stroke-width="0.3">TOLERANCE FOR PCB LAYOUT IS ±0.05</text>
<text x="790.5" y="1066.4" font-family="Liberation Sans" font-size="15.5" font-weight="normal" text-anchor="start" fill="#222" textLength="204" lengthAdjust="spacingAndGlyphs"  stroke="#fff" stroke-width="0.3">USB TYPE C PIN ASSIGNMENTS</text>
<line x1="790.5" y1="1075.1" x2="1156.3" y2="1075.1" stroke="#444" stroke-width="1.43"/>
<line x1="790.5" y1="1095.3" x2="1156.3" y2="1095.3" stroke="#444" stroke-width="1.43"/>
<line x1="790.5" y1="1119" x2="1156.3" y2="1119" stroke="#444" stroke-width="1.43"/>
<line x1="790.5" y1="1145.5" x2="1156.3" y2="1145.5" stroke="#444" stroke-width="1.43"/>
<line x1="790.5" y1="1171.7" x2="1156.3" y2="1171.7" stroke="#444" stroke-width="1.43"/>
<line x1="790.5" y1="1198.2" x2="1156.3" y2="1198.2" stroke="#444" stroke-width="1.43"/>
<line x1="790.5" y1="1224.3" x2="1156.3" y2="1224.3" stroke="#444" stroke-width="1.43"/>
<line x1="790.5" y1="1250.5" x2="1156.3" y2="1250.5" stroke="#444" stroke-width="1.43"/>
<line x1="790.5" y1="1276.6" x2="1156.3" y2="1276.6" stroke="#444" stroke-width="1.43"/>
<line x1="790.5" y1="1302.6" x2="1156.3" y2="1302.6" stroke="#444" stroke-width="1.43"/>
<line x1="790.5" y1="1075.1" x2="790.5" y2="1302.6" stroke="#444" stroke-width="1.43"/>
<line x1="877.6" y1="1075.1" x2="877.6" y2="1302.6" stroke="#444" stroke-width="1.43"/>
<line x1="973.7" y1="1075.1" x2="973.7" y2="1302.6" stroke="#444" stroke-width="1.43"/>
<line x1="1060.5" y1="1075.1" x2="1060.5" y2="1302.6" stroke="#444" stroke-width="1.43"/>
<line x1="1156.3" y1="1075.1" x2="1156.3" y2="1302.6" stroke="#444" stroke-width="1.43"/>
<text x="794.5" y="1090.6" font-family="Liberation Sans" font-size="15" font-weight="normal" text-anchor="start" fill="#222" textLength="78.8" lengthAdjust="spacingAndGlyphs"  stroke="#fff" stroke-width="0.3">PIN NUMBER</text>
<text x="882.4" y="1091.7" font-family="Liberation Sans" font-size="15" font-weight="normal" text-anchor="start" fill="#222" textLength="86.3" lengthAdjust="spacingAndGlyphs"  stroke="#fff" stroke-width="0.3">SIGNAL NAME</text>
<text x="977" y="1090.6" font-family="Liberation Sans" font-size="15" font-weight="normal" text-anchor="start" fill="#222" textLength="79.3" lengthAdjust="spacingAndGlyphs"  stroke="#fff" stroke-width="0.3">PIN NUMBER</text>
<text x="1065.3" y="1091.7" font-family="Liberation Sans" font-size="15" font-weight="normal" text-anchor="start" fill="#222" textLength="86" lengthAdjust="spacingAndGlyphs"  stroke="#fff" stroke-width="0.3">SIGNAL NAME</text>
<g transform="translate(818.3 1112.8) scale(0.78 1)"><text x="0" y="0" font-family="Liberation Sans" font-size="14.8" fill="#2a2a2a">A1</text></g>
<g transform="translate(903.6 1112.8) scale(0.78 1)"><text x="0" y="0" font-family="Liberation Sans" font-size="14.8" fill="#2a2a2a">GND</text></g>
<g transform="translate(1000.3 1112.8) scale(0.78 1)"><text x="0" y="0" font-family="Liberation Sans" font-size="14.8" fill="#2a2a2a">B12</text></g>
<g transform="translate(1087.1 1112.8) scale(0.78 1)"><text x="0" y="0" font-family="Liberation Sans" font-size="14.8" fill="#2a2a2a">GND</text></g>
<g transform="translate(818.3 1139) scale(0.78 1)"><text x="0" y="0" font-family="Liberation Sans" font-size="14.8" fill="#2a2a2a">A4</text></g>
<g transform="translate(903.6 1139) scale(0.78 1)"><text x="0" y="0" font-family="Liberation Sans" font-size="14.8" fill="#2a2a2a">VBUS</text></g>
<g transform="translate(1000.3 1139) scale(0.78 1)"><text x="0" y="0" font-family="Liberation Sans" font-size="14.8" fill="#2a2a2a">B9</text></g>
<g transform="translate(1087.1 1139) scale(0.78 1)"><text x="0" y="0" font-family="Liberation Sans" font-size="14.8" fill="#2a2a2a">VBUS</text></g>
<g transform="translate(818.3 1165.2) scale(0.78 1)"><text x="0" y="0" font-family="Liberation Sans" font-size="14.8" fill="#2a2a2a">A5</text></g>
<g transform="translate(903.6 1165.2) scale(0.78 1)"><text x="0" y="0" font-family="Liberation Sans" font-size="14.8" fill="#2a2a2a">CC1</text></g>
<g transform="translate(1000.3 1165.2) scale(0.78 1)"><text x="0" y="0" font-family="Liberation Sans" font-size="14.8" fill="#2a2a2a">B8</text></g>
<g transform="translate(1087.1 1165.2) scale(0.78 1)"><text x="0" y="0" font-family="Liberation Sans" font-size="14.8" fill="#2a2a2a">SUB2</text></g>
<g transform="translate(818.3 1191.4) scale(0.78 1)"><text x="0" y="0" font-family="Liberation Sans" font-size="14.8" fill="#2a2a2a">A6</text></g>
<g transform="translate(903.6 1191.4) scale(0.78 1)"><text x="0" y="0" font-family="Liberation Sans" font-size="14.8" fill="#2a2a2a">Dp1</text></g>
<g transform="translate(1000.3 1191.4) scale(0.78 1)"><text x="0" y="0" font-family="Liberation Sans" font-size="14.8" fill="#2a2a2a">B7</text></g>
<g transform="translate(1087.1 1191.4) scale(0.78 1)"><text x="0" y="0" font-family="Liberation Sans" font-size="14.8" fill="#2a2a2a">Dn2</text></g>
<g transform="translate(818.3 1217.6) scale(0.78 1)"><text x="0" y="0" font-family="Liberation Sans" font-size="14.8" fill="#2a2a2a">A7</text></g>
<g transform="translate(903.6 1217.6) scale(0.78 1)"><text x="0" y="0" font-family="Liberation Sans" font-size="14.8" fill="#2a2a2a">Dn1</text></g>
<g transform="translate(1000.3 1217.6) scale(0.78 1)"><text x="0" y="0" font-family="Liberation Sans" font-size="14.8" fill="#2a2a2a">B6</text></g>
<g transform="translate(1087.1 1217.6) scale(0.78 1)"><text x="0" y="0" font-family="Liberation Sans" font-size="14.8" fill="#2a2a2a">Dp2</text></g>
<g transform="translate(818.3 1243.8) scale(0.78 1)"><text x="0" y="0" font-family="Liberation Sans" font-size="14.8" fill="#2a2a2a">A8</text></g>
<g transform="translate(903.6 1243.8) scale(0.78 1)"><text x="0" y="0" font-family="Liberation Sans" font-size="14.8" fill="#2a2a2a">SBU1</text></g>
<g transform="translate(1000.3 1243.8) scale(0.78 1)"><text x="0" y="0" font-family="Liberation Sans" font-size="14.8" fill="#2a2a2a">B5</text></g>
<g transform="translate(1087.1 1243.8) scale(0.78 1)"><text x="0" y="0" font-family="Liberation Sans" font-size="14.8" fill="#2a2a2a">CC2</text></g>
<g transform="translate(818.3 1270) scale(0.78 1)"><text x="0" y="0" font-family="Liberation Sans" font-size="14.8" fill="#2a2a2a">A9</text></g>
<g transform="translate(903.6 1270) scale(0.78 1)"><text x="0" y="0" font-family="Liberation Sans" font-size="14.8" fill="#2a2a2a">VBUS</text></g>
<g transform="translate(1000.3 1270) scale(0.78 1)"><text x="0" y="0" font-family="Liberation Sans" font-size="14.8" fill="#2a2a2a">B4</text></g>
<g transform="translate(1087.1 1270) scale(0.78 1)"><text x="0" y="0" font-family="Liberation Sans" font-size="14.8" fill="#2a2a2a">VBUS</text></g>
<g transform="translate(818.3 1296.2) scale(0.78 1)"><text x="0" y="0" font-family="Liberation Sans" font-size="14.8" fill="#2a2a2a">A12</text></g>
<g transform="translate(903.6 1296.2) scale(0.78 1)"><text x="0" y="0" font-family="Liberation Sans" font-size="14.8" fill="#2a2a2a">GND</text></g>
<g transform="translate(1000.3 1296.2) scale(0.78 1)"><text x="0" y="0" font-family="Liberation Sans" font-size="14.8" fill="#2a2a2a">B1</text></g>
<g transform="translate(1087.1 1296.2) scale(0.78 1)"><text x="0" y="0" font-family="Liberation Sans" font-size="14.8" fill="#2a2a2a">GND</text></g>
</svg>
</body></html>
